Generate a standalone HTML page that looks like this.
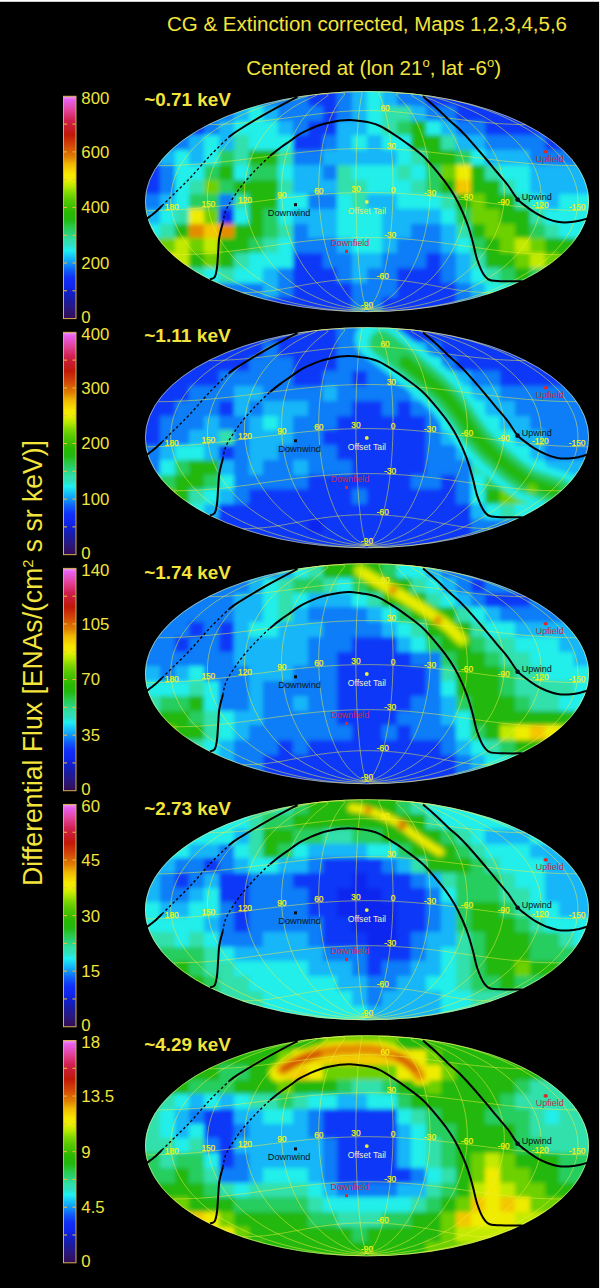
<!DOCTYPE html>
<html><head><meta charset="utf-8"><style>
html,body{margin:0;padding:0;background:#fff;width:600px;height:1288px;overflow:hidden}
svg{display:block}
text{font-family:"Liberation Sans",sans-serif}
.t1{font-size:19.5px;fill:#f2e43c}
.t2{font-size:20.6px;fill:#f2e43c}
.deg{font-size:13px}
.ylab{font-size:27px;fill:#f2e43c}
.sup{font-size:15px}
.cl{font-size:16.8px;fill:#f2e43c}
.en{font-size:18px;font-weight:bold;fill:#f2e43c}
.gl{font-size:8.3px;fill:#f4f010;stroke:#f4f010;stroke-width:0.25px;text-anchor:middle}
.mk{font-size:9px}
</style></head><body>
<svg width="600" height="1288" viewBox="0 0 600 1288">
<defs><filter id="bl" x="-5%" y="-5%" width="110%" height="110%"><feGaussianBlur stdDeviation="2.0"/></filter><filter id="bl2" x="-20%" y="-20%" width="140%" height="140%"><feGaussianBlur stdDeviation="1.5"/></filter><path id="grat" d="M367.0,309.1 L365.4,309.9 L363.3,310.7 L360.4,311.2 L355.3,311.3 L347.5,311.0 L339.0,310.3 L330.9,309.5 L323.3,308.5 L316.2,307.5 L309.6,306.4 L303.3,305.2 L297.3,303.9 L291.6,302.6 L286.2,301.2 L281.0,299.8 L276.0,298.3 L271.2,296.8 L266.5,295.3 L262.1,293.7 L257.7,292.1 L253.6,290.4 L249.5,288.8 L245.6,287.0 L241.8,285.3 L238.2,283.5 L234.6,281.7 L231.2,279.9 L227.9,278.0 L224.7,276.2 L221.6,274.3 L218.6,272.3 L215.7,270.4 L212.9,268.4 L210.2,266.4 L207.6,264.4 L205.1,262.4 L202.7,260.4 L200.4,258.3 L198.2,256.2 L196.0,254.1 L194.0,252.0 L192.0,249.9 L190.2,247.8 L188.4,245.6 L186.7,243.5 L185.1,241.3 L183.6,239.1 L182.2,236.9 L180.8,234.7 L179.6,232.5 L178.4,230.3 L177.3,228.1 L176.3,225.9 L175.4,223.6 L174.5,221.4 L173.8,219.1 L173.1,216.9 L172.5,214.6 L172.0,212.3 L171.6,210.1 L171.3,207.8 L171.0,205.5 L170.8,203.3 L170.8,201.0 L170.7,198.7 L170.8,196.5 L171.0,194.2 L171.2,191.9 L171.6,189.7 L172.0,187.4 L172.5,185.1 L173.0,182.9 L173.7,180.6 L174.4,178.4 L175.3,176.2 L176.2,173.9 L177.2,171.7 L178.2,169.5 L179.4,167.3 L180.6,165.1 L182.0,162.9 L183.4,160.7 L184.9,158.6 L186.5,156.4 L188.2,154.3 L189.9,152.2 L191.8,150.0 L193.7,148.0 L195.8,145.9 L197.9,143.8 L200.1,141.8 L202.4,139.7 L204.8,137.7 L207.3,135.7 L209.9,133.7 L212.6,131.8 L215.4,129.8 L218.3,127.9 L221.3,126.0 L224.4,124.2 L227.6,122.3 L230.9,120.5 L234.3,118.7 L237.8,117.0 L241.5,115.2 L245.3,113.5 L249.2,111.9 L253.2,110.2 L257.4,108.7 L261.7,107.1 L266.2,105.6 L270.8,104.1 L275.6,102.6 L280.6,101.3 L285.8,99.9 L291.2,98.6 L296.8,97.4 L302.7,96.2 L308.8,95.1 L315.2,94.1 M367.0,309.1 L367.7,310.0 L368.6,310.9 L370.0,311.5 L374.2,311.8 L385.4,311.5 L396.3,310.8 L405.9,309.9 L414.4,309.0 L422.3,307.9 L429.5,306.8 L436.4,305.6 L442.8,304.3 L449.0,303.0 L454.8,301.6 L460.4,300.2 L465.8,298.8 L471.0,297.3 L476.0,295.7 L480.8,294.1 L485.4,292.5 L489.9,290.9 L494.2,289.2 L498.4,287.5 L502.5,285.7 L506.4,284.0 L510.2,282.2 L513.8,280.3 L517.4,278.5 L520.8,276.6 L524.1,274.7 L527.3,272.8 L530.4,270.9 L533.4,268.9 L536.2,266.9 L539.0,264.9 L541.7,262.9 L544.2,260.8 L546.7,258.8 L549.1,256.7 L551.3,254.6 L553.5,252.5 L555.6,250.4 L557.6,248.3 L559.5,246.1 L561.3,244.0 L563.0,241.8 L564.6,239.6 L566.1,237.4 L567.5,235.2 L568.8,233.0 L570.1,230.8 L571.2,228.6 L572.3,226.3 L573.2,224.1 L574.1,221.9 L574.9,219.6 L575.6,217.4 L576.2,215.1 L576.7,212.8 L577.1,210.6 L577.5,208.3 L577.7,206.0 L577.9,203.8 L578.0,201.5 L577.9,199.2 L577.8,196.9 L577.6,194.7 L577.4,192.4 L577.0,190.1 L576.5,187.9 L576.0,185.6 L575.3,183.4 L574.6,181.1 L573.8,178.9 L572.8,176.6 L571.8,174.4 L570.7,172.2 L569.6,170.0 L568.3,167.8 L566.9,165.6 L565.4,163.4 L563.9,161.2 L562.2,159.0 L560.5,156.9 L558.7,154.7 L556.7,152.6 L554.7,150.5 L552.6,148.4 L550.4,146.3 L548.1,144.2 L545.7,142.2 L543.2,140.1 L540.5,138.1 L537.8,136.1 L535.0,134.1 L532.1,132.1 L529.1,130.2 L525.9,128.3 L522.7,126.4 L519.3,124.5 L515.8,122.7 L512.2,120.8 L508.5,119.1 L504.7,117.3 L500.7,115.5 L496.6,113.8 L492.3,112.2 L487.9,110.5 L483.4,108.9 L478.6,107.3 L473.8,105.8 L468.7,104.3 L463.4,102.8 L457.9,101.4 L452.2,100.1 L446.2,98.8 L439.9,97.5 L433.3,96.3 L426.3,95.2 L418.8,94.1 M367.0,309.1 L369.8,309.8 L373.1,310.3 L377.3,310.5 L382.5,310.3 L388.6,309.9 L395.0,309.2 L401.3,308.4 L407.4,307.4 L413.3,306.4 L418.8,305.3 L424.2,304.0 L429.3,302.8 L434.2,301.4 L438.9,300.1 L443.5,298.6 L447.8,297.2 L452.0,295.7 L456.1,294.1 L460.0,292.5 L463.8,290.9 L467.5,289.2 L471.1,287.5 L474.5,285.8 L477.9,284.0 L481.1,282.2 L484.2,280.4 L487.3,278.6 L490.2,276.7 L493.0,274.9 L495.8,272.9 L498.4,271.0 L501.0,269.1 L503.5,267.1 L505.9,265.1 L508.2,263.1 L510.4,261.0 L512.5,259.0 L514.6,256.9 L516.6,254.8 L518.5,252.8 L520.3,250.6 L522.0,248.5 L523.7,246.4 L525.3,244.2 L526.8,242.1 L528.2,239.9 L529.6,237.7 L530.8,235.5 L532.0,233.3 L533.2,231.1 L534.2,228.9 L535.2,226.7 L536.1,224.4 L536.9,222.2 L537.7,219.9 L538.4,217.7 L539.0,215.4 L539.5,213.2 L540.0,210.9 L540.4,208.7 L540.7,206.4 L540.9,204.1 L541.1,201.9 L541.2,199.6 L541.2,197.3 L541.1,195.1 L541.0,192.8 L540.8,190.5 L540.5,188.3 L540.2,186.0 L539.8,183.8 L539.3,181.5 L538.7,179.3 L538.1,177.0 L537.3,174.8 L536.6,172.6 L535.7,170.4 L534.8,168.2 L533.7,166.0 L532.7,163.8 L531.5,161.6 L530.2,159.5 L528.9,157.3 L527.5,155.2 L526.1,153.0 L524.5,150.9 L522.9,148.8 L521.2,146.7 L519.4,144.7 L517.6,142.6 L515.6,140.6 L513.6,138.6 L511.5,136.6 L509.3,134.6 L507.0,132.6 L504.7,130.7 L502.2,128.8 L499.7,126.9 L497.1,125.0 L494.4,123.2 L491.6,121.4 L488.7,119.6 L485.7,117.8 L482.6,116.1 L479.4,114.4 L476.1,112.7 L472.7,111.1 L469.2,109.5 L465.6,107.9 L461.8,106.4 L458.0,104.9 L454.0,103.5 L449.9,102.1 L445.7,100.7 L441.3,99.4 L436.8,98.2 L432.3,97.1 L427.6,96.0 L423.1,95.0 L418.8,94.1 M367.0,309.1 L371.0,309.3 L375.2,309.3 L379.7,309.0 L384.4,308.5 L389.1,307.8 L393.7,307.0 L398.2,306.0 L402.6,305.0 L406.8,303.9 L410.9,302.6 L414.8,301.4 L418.6,300.0 L422.3,298.7 L425.8,297.2 L429.2,295.7 L432.5,294.2 L435.7,292.7 L438.8,291.1 L441.8,289.4 L444.7,287.7 L447.5,286.0 L450.3,284.3 L452.9,282.6 L455.5,280.8 L458.0,278.9 L460.4,277.1 L462.7,275.2 L465.0,273.3 L467.2,271.4 L469.3,269.5 L471.3,267.5 L473.3,265.5 L475.2,263.5 L477.1,261.5 L478.9,259.5 L480.6,257.4 L482.2,255.4 L483.8,253.3 L485.4,251.2 L486.8,249.1 L488.2,246.9 L489.6,244.8 L490.9,242.7 L492.1,240.5 L493.3,238.3 L494.4,236.1 L495.4,233.9 L496.4,231.7 L497.3,229.5 L498.2,227.3 L499.0,225.1 L499.8,222.9 L500.5,220.6 L501.1,218.4 L501.7,216.1 L502.2,213.9 L502.7,211.6 L503.1,209.4 L503.4,207.1 L503.7,204.9 L503.9,202.6 L504.1,200.3 L504.2,198.1 L504.3,195.8 L504.3,193.6 L504.3,191.3 L504.1,189.0 L504.0,186.8 L503.8,184.5 L503.5,182.3 L503.1,180.1 L502.7,177.8 L502.3,175.6 L501.8,173.4 L501.2,171.2 L500.6,169.0 L499.9,166.8 L499.1,164.6 L498.3,162.4 L497.5,160.3 L496.5,158.1 L495.6,156.0 L494.5,153.9 L493.4,151.8 L492.3,149.7 L491.0,147.6 L489.8,145.5 L488.4,143.5 L487.0,141.4 L485.5,139.4 L484.0,137.4 L482.4,135.4 L480.8,133.5 L479.0,131.5 L477.3,129.6 L475.4,127.7 L473.5,125.9 L471.5,124.0 L469.5,122.2 L467.4,120.4 L465.2,118.7 L462.9,116.9 L460.6,115.2 L458.2,113.6 L455.8,111.9 L453.2,110.3 L450.6,108.8 L447.9,107.3 L445.2,105.8 L442.4,104.4 L439.5,103.0 L436.6,101.7 L433.7,100.4 L430.7,99.2 L427.8,98.1 L425.0,97.0 L422.4,96.1 L420.2,95.3 L418.9,94.6 L418.8,94.1 M367.0,309.1 L371.0,308.8 L374.9,308.3 L378.7,307.6 L382.4,306.8 L385.9,305.8 L389.3,304.8 L392.5,303.6 L395.6,302.4 L398.6,301.2 L401.5,299.8 L404.3,298.5 L406.9,297.0 L409.5,295.6 L412.0,294.0 L414.4,292.5 L416.7,290.9 L419.0,289.2 L421.2,287.6 L423.3,285.9 L425.4,284.1 L427.4,282.4 L429.3,280.6 L431.2,278.8 L433.0,276.9 L434.8,275.1 L436.5,273.2 L438.1,271.2 L439.7,269.3 L441.3,267.3 L442.8,265.4 L444.2,263.4 L445.7,261.4 L447.0,259.3 L448.3,257.3 L449.6,255.2 L450.8,253.1 L452.0,251.0 L453.1,248.9 L454.2,246.8 L455.2,244.6 L456.2,242.5 L457.2,240.3 L458.1,238.2 L458.9,236.0 L459.8,233.8 L460.5,231.6 L461.3,229.4 L462.0,227.2 L462.6,224.9 L463.2,222.7 L463.8,220.5 L464.3,218.2 L464.8,216.0 L465.2,213.7 L465.6,211.5 L466.0,209.2 L466.3,207.0 L466.5,204.7 L466.8,202.4 L467.0,200.2 L467.1,197.9 L467.2,195.7 L467.3,193.4 L467.3,191.2 L467.3,188.9 L467.2,186.7 L467.1,184.4 L466.9,182.2 L466.7,179.9 L466.5,177.7 L466.2,175.5 L465.9,173.3 L465.6,171.1 L465.2,168.9 L464.7,166.7 L464.2,164.5 L463.7,162.3 L463.1,160.2 L462.5,158.0 L461.9,155.9 L461.2,153.8 L460.4,151.6 L459.6,149.5 L458.8,147.5 L457.9,145.4 L457.0,143.4 L456.1,141.3 L455.1,139.3 L454.0,137.3 L452.9,135.3 L451.8,133.4 L450.6,131.5 L449.4,129.6 L448.1,127.7 L446.8,125.8 L445.4,124.0 L444.0,122.2 L442.5,120.4 L441.0,118.6 L439.5,116.9 L437.8,115.2 L436.2,113.5 L434.5,111.9 L432.8,110.3 L431.0,108.8 L429.1,107.3 L427.3,105.8 L425.4,104.4 L423.4,103.0 L421.5,101.7 L419.5,100.4 L417.6,99.3 L415.7,98.1 L414.0,97.1 L412.5,96.2 L411.5,95.4 L411.2,94.8 L412.0,94.3 L414.4,94.1 L418.8,94.1 M367.0,309.1 L370.1,308.3 L372.8,307.5 L375.4,306.5 L377.8,305.4 L380.1,304.2 L382.3,303.0 L384.3,301.7 L386.3,300.4 L388.1,299.0 L389.9,297.5 L391.6,296.0 L393.3,294.5 L394.9,292.9 L396.4,291.3 L397.9,289.7 L399.4,288.0 L400.8,286.3 L402.1,284.5 L403.4,282.8 L404.7,281.0 L405.9,279.2 L407.1,277.3 L408.3,275.4 L409.4,273.5 L410.5,271.6 L411.5,269.7 L412.5,267.7 L413.5,265.7 L414.5,263.7 L415.4,261.7 L416.3,259.7 L417.2,257.6 L418.0,255.5 L418.8,253.5 L419.6,251.3 L420.3,249.2 L421.0,247.1 L421.7,245.0 L422.4,242.8 L423.0,240.6 L423.6,238.5 L424.2,236.3 L424.8,234.1 L425.3,231.9 L425.8,229.7 L426.2,227.4 L426.7,225.2 L427.1,223.0 L427.5,220.7 L427.8,218.5 L428.2,216.2 L428.5,214.0 L428.8,211.7 L429.0,209.5 L429.3,207.2 L429.5,204.9 L429.6,202.7 L429.8,200.4 L429.9,198.2 L430.0,195.9 L430.1,193.6 L430.1,191.4 L430.1,189.1 L430.1,186.9 L430.1,184.6 L430.0,182.4 L429.9,180.1 L429.8,177.9 L429.7,175.7 L429.5,173.4 L429.3,171.2 L429.1,169.0 L428.9,166.8 L428.6,164.6 L428.3,162.5 L428.0,160.3 L427.6,158.1 L427.2,156.0 L426.8,153.9 L426.4,151.8 L425.9,149.7 L425.4,147.6 L424.9,145.5 L424.4,143.4 L423.8,141.4 L423.2,139.4 L422.6,137.4 L421.9,135.4 L421.2,133.4 L420.5,131.5 L419.8,129.6 L419.0,127.7 L418.2,125.8 L417.4,124.0 L416.5,122.1 L415.6,120.3 L414.7,118.6 L413.8,116.8 L412.8,115.1 L411.8,113.5 L410.7,111.8 L409.7,110.2 L408.6,108.6 L407.5,107.1 L406.3,105.6 L405.1,104.2 L403.9,102.8 L402.7,101.4 L401.5,100.1 L400.3,98.9 L399.1,97.8 L398.1,96.7 L397.1,95.7 L396.4,94.8 L396.3,94.1 L397.0,93.6 L399.4,93.3 L404.0,93.3 L410.7,93.6 L418.8,94.1 M367.0,309.1 L368.4,308.1 L369.6,307.0 L370.7,305.8 L371.7,304.6 L372.7,303.3 L373.6,301.9 L374.4,300.6 L375.2,299.1 L376.0,297.6 L376.7,296.1 L377.4,294.5 L378.1,293.0 L378.8,291.3 L379.4,289.7 L380.0,288.0 L380.6,286.2 L381.1,284.5 L381.7,282.7 L382.2,280.9 L382.8,279.0 L383.3,277.2 L383.7,275.3 L384.2,273.4 L384.7,271.4 L385.1,269.5 L385.5,267.5 L385.9,265.5 L386.3,263.5 L386.7,261.4 L387.1,259.4 L387.5,257.3 L387.8,255.2 L388.2,253.2 L388.5,251.0 L388.8,248.9 L389.1,246.8 L389.4,244.6 L389.7,242.5 L389.9,240.3 L390.2,238.1 L390.4,235.9 L390.7,233.7 L390.9,231.5 L391.1,229.3 L391.3,227.0 L391.5,224.8 L391.7,222.6 L391.8,220.3 L392.0,218.1 L392.1,215.8 L392.3,213.5 L392.4,211.3 L392.5,209.0 L392.6,206.7 L392.7,204.5 L392.8,202.2 L392.8,199.9 L392.9,197.7 L392.9,195.4 L393.0,193.1 L393.0,190.9 L393.0,188.6 L393.0,186.3 L393.0,184.1 L393.0,181.8 L392.9,179.6 L392.9,177.3 L392.8,175.1 L392.8,172.9 L392.7,170.7 L392.6,168.5 L392.5,166.3 L392.4,164.1 L392.3,161.9 L392.2,159.7 L392.0,157.6 L391.9,155.4 L391.7,153.3 L391.5,151.2 L391.3,149.1 L391.1,147.0 L390.9,144.9 L390.7,142.8 L390.5,140.8 L390.2,138.8 L390.0,136.8 L389.7,134.8 L389.4,132.8 L389.1,130.9 L388.8,128.9 L388.5,127.0 L388.2,125.2 L387.9,123.3 L387.5,121.5 L387.1,119.7 L386.8,117.9 L386.4,116.2 L386.0,114.4 L385.6,112.8 L385.1,111.1 L384.7,109.5 L384.2,107.9 L383.8,106.4 L383.3,104.9 L382.8,103.4 L382.3,102.0 L381.8,100.6 L381.3,99.3 L380.7,98.0 L380.2,96.8 L379.7,95.7 L379.2,94.7 L378.9,93.7 L378.7,92.9 L379.2,92.2 L381.8,91.9 L388.7,92.0 L398.7,92.5 L409.0,93.3 L418.8,94.1 M367.0,309.1 L366.4,308.0 L365.9,306.9 L365.4,305.7 L365.0,304.4 L364.5,303.1 L364.2,301.8 L363.8,300.4 L363.5,298.9 L363.1,297.4 L362.8,295.9 L362.5,294.3 L362.2,292.7 L361.9,291.0 L361.7,289.4 L361.4,287.7 L361.2,285.9 L360.9,284.1 L360.7,282.4 L360.5,280.5 L360.2,278.7 L360.0,276.8 L359.8,274.9 L359.6,273.0 L359.4,271.1 L359.2,269.1 L359.0,267.1 L358.9,265.1 L358.7,263.1 L358.5,261.0 L358.4,259.0 L358.2,256.9 L358.1,254.8 L357.9,252.7 L357.8,250.6 L357.6,248.5 L357.5,246.3 L357.4,244.2 L357.3,242.0 L357.2,239.8 L357.1,237.6 L356.9,235.4 L356.8,233.2 L356.8,231.0 L356.7,228.8 L356.6,226.6 L356.5,224.3 L356.4,222.1 L356.4,219.8 L356.3,217.6 L356.2,215.3 L356.2,213.1 L356.1,210.8 L356.1,208.5 L356.0,206.3 L356.0,204.0 L356.0,201.7 L355.9,199.4 L355.9,197.2 L355.9,194.9 L355.9,192.6 L355.9,190.4 L355.9,188.1 L355.9,185.8 L355.9,183.6 L355.9,181.3 L355.9,179.1 L355.9,176.9 L355.9,174.6 L356.0,172.4 L356.0,170.2 L356.0,168.0 L356.1,165.8 L356.1,163.6 L356.2,161.4 L356.2,159.2 L356.3,157.1 L356.4,154.9 L356.4,152.8 L356.5,150.7 L356.6,148.6 L356.7,146.5 L356.8,144.4 L356.9,142.4 L357.0,140.3 L357.1,138.3 L357.2,136.3 L357.3,134.3 L357.4,132.3 L357.5,130.4 L357.7,128.5 L357.8,126.6 L357.9,124.7 L358.1,122.9 L358.2,121.0 L358.4,119.2 L358.6,117.5 L358.7,115.7 L358.9,114.0 L359.1,112.3 L359.3,110.7 L359.4,109.1 L359.6,107.5 L359.8,105.9 L360.1,104.4 L360.3,103.0 L360.5,101.6 L360.7,100.2 L360.9,98.9 L361.2,97.6 L361.4,96.4 L361.6,95.3 L361.8,94.2 L362.0,93.3 L362.1,92.4 L361.8,91.7 L359.1,91.4 L347.5,91.7 L335.4,92.3 L324.7,93.2 L315.2,94.1 M367.0,309.1 L364.6,308.2 L362.4,307.2 L360.3,306.1 L358.5,305.0 L356.7,303.8 L355.1,302.5 L353.5,301.1 L352.0,299.7 L350.6,298.3 L349.2,296.8 L347.9,295.3 L346.6,293.7 L345.4,292.1 L344.3,290.5 L343.1,288.8 L342.0,287.1 L341.0,285.4 L339.9,283.6 L338.9,281.8 L338.0,280.0 L337.0,278.2 L336.1,276.3 L335.2,274.4 L334.4,272.5 L333.6,270.6 L332.8,268.6 L332.0,266.6 L331.2,264.6 L330.5,262.6 L329.8,260.6 L329.1,258.5 L328.5,256.5 L327.9,254.4 L327.2,252.3 L326.7,250.2 L326.1,248.0 L325.5,245.9 L325.0,243.7 L324.5,241.6 L324.0,239.4 L323.6,237.2 L323.2,235.0 L322.7,232.8 L322.3,230.6 L322.0,228.4 L321.6,226.2 L321.3,223.9 L321.0,221.7 L320.7,219.4 L320.4,217.2 L320.2,214.9 L319.9,212.7 L319.7,210.4 L319.5,208.1 L319.4,205.9 L319.2,203.6 L319.1,201.3 L319.0,199.1 L318.9,196.8 L318.8,194.5 L318.8,192.3 L318.7,190.0 L318.7,187.8 L318.7,185.5 L318.8,183.3 L318.8,181.0 L318.9,178.8 L319.0,176.5 L319.1,174.3 L319.2,172.1 L319.4,169.9 L319.6,167.7 L319.7,165.5 L320.0,163.3 L320.2,161.1 L320.5,159.0 L320.7,156.8 L321.0,154.7 L321.3,152.6 L321.7,150.4 L322.0,148.4 L322.4,146.3 L322.8,144.2 L323.2,142.2 L323.7,140.1 L324.2,138.1 L324.6,136.1 L325.2,134.1 L325.7,132.2 L326.2,130.3 L326.8,128.3 L327.4,126.5 L328.0,124.6 L328.7,122.8 L329.3,121.0 L330.0,119.2 L330.7,117.4 L331.5,115.7 L332.2,114.0 L333.0,112.3 L333.8,110.7 L334.6,109.1 L335.5,107.5 L336.4,106.0 L337.3,104.6 L338.2,103.1 L339.1,101.8 L340.0,100.4 L341.0,99.2 L341.9,97.9 L342.8,96.8 L343.6,95.8 L344.3,94.8 L344.7,94.0 L344.4,93.3 L342.9,92.9 L339.2,92.7 L332.7,92.9 L324.3,93.4 L315.2,94.1 M367.0,309.1 L363.3,308.6 L359.7,307.9 L356.4,307.1 L353.2,306.2 L350.1,305.1 L347.3,304.0 L344.5,302.8 L341.9,301.5 L339.3,300.2 L336.9,298.8 L334.6,297.4 L332.3,295.9 L330.1,294.4 L328.0,292.9 L326.0,291.3 L324.0,289.6 L322.1,288.0 L320.3,286.3 L318.5,284.5 L316.7,282.8 L315.0,281.0 L313.4,279.2 L311.8,277.3 L310.3,275.5 L308.8,273.6 L307.4,271.7 L306.0,269.7 L304.6,267.8 L303.3,265.8 L302.0,263.8 L300.8,261.8 L299.6,259.7 L298.5,257.7 L297.4,255.6 L296.3,253.5 L295.3,251.4 L294.3,249.3 L293.4,247.2 L292.4,245.1 L291.6,242.9 L290.7,240.8 L289.9,238.6 L289.2,236.4 L288.5,234.2 L287.8,232.0 L287.1,229.8 L286.5,227.6 L285.9,225.4 L285.4,223.1 L284.9,220.9 L284.4,218.7 L284.0,216.4 L283.6,214.2 L283.2,211.9 L282.9,209.6 L282.6,207.4 L282.4,205.1 L282.1,202.9 L282.0,200.6 L281.8,198.3 L281.7,196.1 L281.6,193.8 L281.6,191.6 L281.6,189.3 L281.6,187.1 L281.7,184.8 L281.8,182.6 L281.9,180.3 L282.1,178.1 L282.3,175.9 L282.5,173.7 L282.8,171.5 L283.1,169.3 L283.5,167.1 L283.9,164.9 L284.3,162.7 L284.8,160.5 L285.3,158.4 L285.8,156.3 L286.4,154.1 L287.0,152.0 L287.6,149.9 L288.3,147.8 L289.0,145.8 L289.8,143.7 L290.6,141.7 L291.4,139.7 L292.3,137.7 L293.2,135.7 L294.1,133.7 L295.1,131.8 L296.1,129.9 L297.2,128.0 L298.3,126.1 L299.4,124.3 L300.6,122.4 L301.8,120.6 L303.1,118.9 L304.4,117.2 L305.7,115.5 L307.1,113.8 L308.5,112.1 L310.0,110.5 L311.5,109.0 L313.0,107.5 L314.5,106.0 L316.1,104.5 L317.8,103.2 L319.4,101.8 L321.0,100.6 L322.7,99.3 L324.2,98.2 L325.7,97.2 L326.9,96.2 L327.9,95.4 L328.2,94.7 L327.5,94.2 L325.4,93.9 L321.3,93.9 L315.2,94.1 M367.0,309.1 L362.9,309.1 L358.6,308.9 L354.3,308.4 L350.0,307.8 L345.8,307.0 L341.7,306.1 L337.7,305.1 L333.9,303.9 L330.2,302.8 L326.6,301.5 L323.2,300.2 L319.8,298.8 L316.6,297.4 L313.5,295.9 L310.5,294.4 L307.6,292.9 L304.8,291.3 L302.1,289.7 L299.4,288.0 L296.9,286.3 L294.4,284.6 L292.0,282.8 L289.7,281.0 L287.4,279.2 L285.2,277.4 L283.1,275.5 L281.0,273.6 L279.0,271.7 L277.1,269.8 L275.2,267.9 L273.4,265.9 L271.7,263.9 L270.0,261.9 L268.4,259.8 L266.8,257.8 L265.3,255.7 L263.8,253.7 L262.4,251.6 L261.1,249.4 L259.8,247.3 L258.5,245.2 L257.3,243.0 L256.2,240.9 L255.1,238.7 L254.1,236.5 L253.1,234.3 L252.2,232.1 L251.3,229.9 L250.5,227.7 L249.8,225.5 L249.1,223.3 L248.4,221.0 L247.8,218.8 L247.2,216.5 L246.7,214.3 L246.3,212.0 L245.9,209.8 L245.5,207.5 L245.2,205.3 L245.0,203.0 L244.8,200.8 L244.6,198.5 L244.5,196.2 L244.5,194.0 L244.5,191.7 L244.6,189.5 L244.7,187.2 L244.8,185.0 L245.0,182.7 L245.3,180.5 L245.6,178.3 L246.0,176.0 L246.4,173.8 L246.9,171.6 L247.4,169.4 L248.0,167.2 L248.6,165.0 L249.3,162.9 L250.0,160.7 L250.8,158.6 L251.6,156.4 L252.5,154.3 L253.4,152.2 L254.4,150.1 L255.5,148.0 L256.6,145.9 L257.7,143.9 L258.9,141.8 L260.2,139.8 L261.5,137.8 L262.9,135.9 L264.3,133.9 L265.8,132.0 L267.3,130.0 L268.9,128.1 L270.6,126.3 L272.3,124.4 L274.0,122.6 L275.9,120.8 L277.8,119.1 L279.7,117.3 L281.7,115.6 L283.8,114.0 L285.9,112.3 L288.1,110.7 L290.3,109.2 L292.6,107.6 L295.0,106.2 L297.4,104.7 L299.9,103.4 L302.3,102.0 L304.9,100.8 L307.3,99.6 L309.8,98.4 L312.1,97.4 L314.3,96.4 L316.0,95.6 L317.0,94.9 L316.9,94.4 L315.2,94.1 M367.0,309.1 L363.6,309.6 L359.7,309.9 L355.2,309.9 L350.2,309.6 L344.7,309.1 L339.2,308.4 L333.7,307.5 L328.4,306.5 L323.2,305.4 L318.3,304.3 L313.6,303.1 L309.0,301.8 L304.6,300.4 L300.4,299.0 L296.3,297.6 L292.4,296.1 L288.6,294.6 L284.9,293.0 L281.4,291.4 L277.9,289.7 L274.6,288.1 L271.4,286.4 L268.2,284.6 L265.2,282.9 L262.3,281.1 L259.4,279.2 L256.7,277.4 L254.0,275.5 L251.4,273.6 L248.9,271.7 L246.5,269.8 L244.2,267.8 L241.9,265.8 L239.7,263.8 L237.6,261.8 L235.6,259.8 L233.7,257.7 L231.8,255.6 L230.0,253.5 L228.3,251.4 L226.6,249.3 L225.0,247.2 L223.5,245.1 L222.1,242.9 L220.7,240.7 L219.4,238.6 L218.1,236.4 L217.0,234.2 L215.9,232.0 L214.9,229.8 L213.9,227.5 L213.0,225.3 L212.2,223.1 L211.4,220.8 L210.7,218.6 L210.1,216.3 L209.6,214.1 L209.1,211.8 L208.7,209.6 L208.3,207.3 L208.0,205.0 L207.8,202.8 L207.6,200.5 L207.6,198.3 L207.5,196.0 L207.6,193.7 L207.7,191.5 L207.9,189.2 L208.1,187.0 L208.5,184.7 L208.8,182.5 L209.3,180.2 L209.8,178.0 L210.4,175.8 L211.1,173.5 L211.8,171.3 L212.6,169.1 L213.4,166.9 L214.3,164.7 L215.3,162.6 L216.4,160.4 L217.5,158.2 L218.7,156.1 L220.0,154.0 L221.4,151.9 L222.8,149.7 L224.2,147.7 L225.8,145.6 L227.4,143.5 L229.1,141.5 L230.9,139.5 L232.7,137.5 L234.7,135.5 L236.7,133.5 L238.7,131.6 L240.9,129.7 L243.1,127.8 L245.4,125.9 L247.8,124.0 L250.3,122.2 L252.8,120.4 L255.4,118.7 L258.1,116.9 L261.0,115.2 L263.8,113.5 L266.8,111.9 L269.9,110.3 L273.1,108.7 L276.3,107.2 L279.7,105.7 L283.1,104.2 L286.7,102.8 L290.3,101.5 L294.0,100.2 L297.8,99.0 L301.7,97.8 L305.5,96.7 L309.1,95.7 L312.5,94.9 L315.2,94.1 M257.7,292.1 L256.6,292.2 L255.5,292.2 L254.4,292.3 L253.3,292.3 L252.1,292.4 L251.0,292.4 L249.8,292.5 L248.6,292.5 L247.4,292.6 L246.2,292.6 L244.9,292.6 L243.7,292.6 L242.4,292.6 M492.9,292.6 L491.6,292.6 L490.3,292.6 L489.1,292.6 L487.8,292.6 L486.6,292.6 L485.4,292.5 L484.2,292.5 L483.0,292.4 L481.9,292.4 L480.7,292.3 L479.6,292.3 L478.5,292.2 L477.4,292.2 L476.3,292.1 L475.2,292.0 L474.1,291.9 L473.0,291.8 L472.0,291.8 L470.9,291.7 L469.9,291.6 L468.9,291.5 L467.9,291.3 L466.8,291.2 L465.8,291.1 L464.8,291.0 L463.8,290.9 L462.9,290.7 L461.9,290.6 L460.9,290.5 L459.9,290.3 L459.0,290.2 L458.0,290.0 L457.0,289.9 L456.1,289.7 L455.1,289.6 L454.2,289.4 L453.2,289.3 L452.3,289.1 L451.3,289.0 L450.4,288.8 L449.5,288.6 L448.5,288.4 L447.6,288.3 L446.6,288.1 L445.7,287.9 L444.7,287.7 L443.8,287.6 L442.8,287.4 L441.9,287.2 L440.9,287.0 L440.0,286.9 L439.0,286.7 L438.1,286.5 L437.1,286.3 L436.1,286.1 L435.2,285.9 L434.2,285.8 L433.2,285.6 L432.3,285.4 L431.3,285.2 L430.3,285.0 L429.3,284.8 L428.4,284.7 L427.4,284.5 L426.4,284.3 L425.4,284.1 L424.4,284.0 L423.4,283.8 L422.4,283.6 L421.4,283.4 L420.3,283.3 L419.3,283.1 L418.3,282.9 L417.3,282.8 L416.2,282.6 L415.2,282.4 L414.2,282.3 L413.1,282.1 L412.1,282.0 L411.0,281.8 L410.0,281.7 L408.9,281.5 L407.9,281.4 L406.8,281.3 L405.8,281.1 L404.7,281.0 L403.6,280.9 L402.5,280.7 L401.5,280.6 L400.4,280.5 L399.3,280.4 L398.2,280.2 L397.1,280.1 L396.0,280.0 L394.9,279.9 L393.8,279.8 L392.7,279.7 L391.6,279.6 L390.5,279.5 L389.4,279.5 L388.3,279.4 L387.2,279.3 L386.1,279.2 L385.0,279.2 L383.9,279.1 L382.8,279.0 L381.6,279.0 L380.5,278.9 L379.4,278.9 L378.3,278.8 L377.1,278.8 L376.0,278.7 L374.9,278.7 L373.8,278.7 L372.6,278.7 L371.5,278.6 L370.4,278.6 L369.3,278.6 L368.1,278.6 L367.0,278.6 L365.9,278.6 L364.7,278.6 L363.6,278.6 L362.5,278.6 L361.4,278.7 L360.2,278.7 L359.1,278.7 L358.0,278.7 L356.9,278.8 L355.7,278.8 L354.6,278.9 L353.5,278.9 L352.4,279.0 L351.2,279.0 L350.1,279.1 L349.0,279.2 L347.9,279.2 L346.8,279.3 L345.7,279.4 L344.6,279.5 L343.5,279.5 L342.4,279.6 L341.3,279.7 L340.2,279.8 L339.1,279.9 L338.0,280.0 L336.9,280.1 L335.8,280.2 L334.7,280.4 L333.6,280.5 L332.5,280.6 L331.5,280.7 L330.4,280.9 L329.3,281.0 L328.2,281.1 L327.2,281.3 L326.1,281.4 L325.1,281.5 L324.0,281.7 L323.0,281.8 L321.9,282.0 L320.9,282.1 L319.8,282.3 L318.8,282.4 L317.8,282.6 L316.7,282.8 L315.7,282.9 L314.7,283.1 L313.7,283.3 L312.6,283.4 L311.6,283.6 L310.6,283.8 L309.6,284.0 L308.6,284.1 L307.6,284.3 L306.6,284.5 L305.6,284.7 L304.7,284.8 L303.7,285.0 L302.7,285.2 L301.7,285.4 L300.8,285.6 L299.8,285.8 L298.8,285.9 L297.9,286.1 L296.9,286.3 L295.9,286.5 L295.0,286.7 L294.0,286.9 L293.1,287.0 L292.1,287.2 L291.2,287.4 L290.2,287.6 L289.3,287.7 L288.3,287.9 L287.4,288.1 L286.4,288.3 L285.5,288.4 L284.5,288.6 L283.6,288.8 L282.7,289.0 L281.7,289.1 L280.8,289.3 L279.8,289.4 L278.9,289.6 L277.9,289.7 L277.0,289.9 L276.0,290.0 L275.0,290.2 L274.1,290.3 L273.1,290.5 L272.1,290.6 L271.1,290.7 L270.2,290.9 L269.2,291.0 L268.2,291.1 L267.2,291.2 L266.1,291.3 L265.1,291.5 L264.1,291.6 L263.1,291.7 L262.0,291.8 L261.0,291.8 L259.9,291.9 L258.8,292.0 L257.7,292.1 M196.0,254.1 L194.4,254.2 L192.7,254.3 L191.1,254.4 L189.4,254.4 L187.7,254.5 L186.0,254.5 L184.3,254.6 L182.7,254.6 L181.0,254.7 L179.2,254.7 L177.5,254.7 L175.8,254.7 L174.1,254.7 M561.6,254.7 L559.9,254.7 L558.2,254.7 L556.5,254.7 L554.8,254.7 L553.0,254.7 L551.3,254.6 L549.7,254.6 L548.0,254.5 L546.3,254.5 L544.6,254.4 L542.9,254.4 L541.3,254.3 L539.6,254.2 L538.0,254.1 L536.3,254.1 L534.7,254.0 L533.0,253.9 L531.4,253.8 L529.8,253.7 L528.1,253.5 L526.5,253.4 L524.9,253.3 L523.3,253.2 L521.7,253.0 L520.1,252.9 L518.5,252.8 L516.9,252.6 L515.3,252.5 L513.7,252.3 L512.1,252.1 L510.5,252.0 L508.9,251.8 L507.3,251.6 L505.7,251.4 L504.2,251.3 L502.6,251.1 L501.0,250.9 L499.4,250.7 L497.8,250.5 L496.3,250.3 L494.7,250.1 L493.1,249.9 L491.5,249.7 L490.0,249.5 L488.4,249.3 L486.8,249.1 L485.3,248.9 L483.7,248.6 L482.1,248.4 L480.5,248.2 L479.0,248.0 L477.4,247.8 L475.8,247.5 L474.2,247.3 L472.7,247.1 L471.1,246.9 L469.5,246.7 L467.9,246.4 L466.3,246.2 L464.8,246.0 L463.2,245.8 L461.6,245.5 L460.0,245.3 L458.4,245.1 L456.8,244.9 L455.2,244.6 L453.6,244.4 L452.0,244.2 L450.4,244.0 L448.8,243.8 L447.2,243.6 L445.6,243.3 L444.0,243.1 L442.4,242.9 L440.8,242.7 L439.2,242.5 L437.6,242.3 L436.0,242.1 L434.4,241.9 L432.8,241.7 L431.1,241.5 L429.5,241.4 L427.9,241.2 L426.3,241.0 L424.6,240.8 L423.0,240.6 L421.4,240.5 L419.8,240.3 L418.1,240.1 L416.5,240.0 L414.9,239.8 L413.2,239.7 L411.6,239.5 L410.0,239.4 L408.3,239.3 L406.7,239.1 L405.0,239.0 L403.4,238.9 L401.7,238.8 L400.1,238.7 L398.4,238.6 L396.8,238.5 L395.1,238.4 L393.5,238.3 L391.8,238.2 L390.2,238.1 L388.5,238.0 L386.9,238.0 L385.2,237.9 L383.6,237.8 L381.9,237.8 L380.3,237.7 L378.6,237.7 L376.9,237.6 L375.3,237.6 L373.6,237.6 L372.0,237.6 L370.3,237.6 L368.7,237.5 L367.0,237.5 L365.3,237.5 L363.7,237.6 L362.0,237.6 L360.4,237.6 L358.7,237.6 L357.1,237.6 L355.4,237.7 L353.7,237.7 L352.1,237.8 L350.4,237.8 L348.8,237.9 L347.1,238.0 L345.5,238.0 L343.8,238.1 L342.2,238.2 L340.5,238.3 L338.9,238.4 L337.2,238.5 L335.6,238.6 L333.9,238.7 L332.3,238.8 L330.6,238.9 L329.0,239.0 L327.3,239.1 L325.7,239.3 L324.0,239.4 L322.4,239.5 L320.8,239.7 L319.1,239.8 L317.5,240.0 L315.9,240.1 L314.2,240.3 L312.6,240.5 L311.0,240.6 L309.4,240.8 L307.7,241.0 L306.1,241.2 L304.5,241.4 L302.9,241.5 L301.2,241.7 L299.6,241.9 L298.0,242.1 L296.4,242.3 L294.8,242.5 L293.2,242.7 L291.6,242.9 L290.0,243.1 L288.4,243.3 L286.8,243.6 L285.2,243.8 L283.6,244.0 L282.0,244.2 L280.4,244.4 L278.8,244.6 L277.2,244.9 L275.6,245.1 L274.0,245.3 L272.4,245.5 L270.8,245.8 L269.2,246.0 L267.7,246.2 L266.1,246.4 L264.5,246.7 L262.9,246.9 L261.3,247.1 L259.8,247.3 L258.2,247.5 L256.6,247.8 L255.0,248.0 L253.5,248.2 L251.9,248.4 L250.3,248.6 L248.7,248.9 L247.2,249.1 L245.6,249.3 L244.0,249.5 L242.5,249.7 L240.9,249.9 L239.3,250.1 L237.7,250.3 L236.2,250.5 L234.6,250.7 L233.0,250.9 L231.4,251.1 L229.8,251.3 L228.3,251.4 L226.7,251.6 L225.1,251.8 L223.5,252.0 L221.9,252.1 L220.3,252.3 L218.7,252.5 L217.1,252.6 L215.5,252.8 L213.9,252.9 L212.3,253.0 L210.7,253.2 L209.1,253.3 L207.5,253.4 L205.9,253.5 L204.2,253.7 L202.6,253.8 L201.0,253.9 L199.3,254.0 L197.7,254.1 L196.0,254.1 M171.6,210.1 L169.8,210.2 L167.9,210.2 L166.1,210.3 L164.2,210.4 L162.4,210.4 L160.5,210.5 L158.7,210.5 L156.9,210.6 L155.0,210.6 L153.2,210.6 L151.3,210.7 L149.5,210.7 L147.6,210.7 M588.2,210.7 L586.4,210.7 L584.5,210.7 L582.7,210.7 L580.8,210.6 L579.0,210.6 L577.1,210.6 L575.3,210.5 L573.5,210.5 L571.6,210.4 L569.8,210.4 L567.9,210.3 L566.1,210.2 L564.2,210.2 L562.4,210.1 L560.6,210.0 L558.7,209.9 L556.9,209.8 L555.0,209.7 L553.2,209.6 L551.4,209.5 L549.5,209.3 L547.7,209.2 L545.9,209.1 L544.0,208.9 L542.2,208.8 L540.4,208.7 L538.5,208.5 L536.7,208.3 L534.9,208.2 L533.0,208.0 L531.2,207.8 L529.4,207.7 L527.5,207.5 L525.7,207.3 L523.9,207.1 L522.0,206.9 L520.2,206.7 L518.4,206.5 L516.5,206.3 L514.7,206.1 L512.9,205.9 L511.0,205.7 L509.2,205.5 L507.4,205.3 L505.5,205.1 L503.7,204.9 L501.9,204.6 L500.0,204.4 L498.2,204.2 L496.4,203.9 L494.5,203.7 L492.7,203.5 L490.9,203.3 L489.0,203.0 L487.2,202.8 L485.4,202.5 L483.5,202.3 L481.7,202.1 L479.8,201.8 L478.0,201.6 L476.2,201.4 L474.3,201.1 L472.5,200.9 L470.6,200.7 L468.8,200.4 L467.0,200.2 L465.1,199.9 L463.3,199.7 L461.4,199.5 L459.6,199.3 L457.7,199.0 L455.9,198.8 L454.0,198.6 L452.2,198.3 L450.3,198.1 L448.5,197.9 L446.7,197.7 L444.8,197.5 L443.0,197.3 L441.1,197.1 L439.3,196.9 L437.4,196.7 L435.6,196.5 L433.7,196.3 L431.9,196.1 L430.0,195.9 L428.2,195.7 L426.3,195.5 L424.5,195.4 L422.6,195.2 L420.7,195.0 L418.9,194.9 L417.0,194.7 L415.2,194.5 L413.3,194.4 L411.5,194.3 L409.6,194.1 L407.8,194.0 L405.9,193.9 L404.1,193.7 L402.2,193.6 L400.4,193.5 L398.5,193.4 L396.7,193.3 L394.8,193.2 L393.0,193.1 L391.1,193.0 L389.2,193.0 L387.4,192.9 L385.5,192.8 L383.7,192.8 L381.8,192.7 L380.0,192.7 L378.1,192.6 L376.3,192.6 L374.4,192.6 L372.6,192.5 L370.7,192.5 L368.9,192.5 L367.0,192.5 L365.1,192.5 L363.3,192.5 L361.4,192.5 L359.6,192.6 L357.7,192.6 L355.9,192.6 L354.0,192.7 L352.2,192.7 L350.3,192.8 L348.5,192.8 L346.6,192.9 L344.8,193.0 L342.9,193.0 L341.0,193.1 L339.2,193.2 L337.3,193.3 L335.5,193.4 L333.6,193.5 L331.8,193.6 L329.9,193.7 L328.1,193.9 L326.2,194.0 L324.4,194.1 L322.5,194.3 L320.7,194.4 L318.8,194.5 L317.0,194.7 L315.1,194.9 L313.3,195.0 L311.4,195.2 L309.5,195.4 L307.7,195.5 L305.8,195.7 L304.0,195.9 L302.1,196.1 L300.3,196.3 L298.4,196.5 L296.6,196.7 L294.7,196.9 L292.9,197.1 L291.0,197.3 L289.2,197.5 L287.3,197.7 L285.5,197.9 L283.7,198.1 L281.8,198.3 L280.0,198.6 L278.1,198.8 L276.3,199.0 L274.4,199.3 L272.6,199.5 L270.7,199.7 L268.9,199.9 L267.0,200.2 L265.2,200.4 L263.4,200.7 L261.5,200.9 L259.7,201.1 L257.8,201.4 L256.0,201.6 L254.2,201.8 L252.3,202.1 L250.5,202.3 L248.6,202.5 L246.8,202.8 L245.0,203.0 L243.1,203.3 L241.3,203.5 L239.5,203.7 L237.6,203.9 L235.8,204.2 L234.0,204.4 L232.1,204.6 L230.3,204.9 L228.5,205.1 L226.6,205.3 L224.8,205.5 L223.0,205.7 L221.1,205.9 L219.3,206.1 L217.5,206.3 L215.6,206.5 L213.8,206.7 L212.0,206.9 L210.1,207.1 L208.3,207.3 L206.5,207.5 L204.6,207.7 L202.8,207.8 L201.0,208.0 L199.1,208.2 L197.3,208.3 L195.5,208.5 L193.6,208.7 L191.8,208.8 L190.0,208.9 L188.1,209.1 L186.3,209.2 L184.5,209.3 L182.6,209.5 L180.8,209.6 L179.0,209.7 L177.1,209.8 L175.3,209.9 L173.4,210.0 L171.6,210.1 M180.6,165.1 L178.9,165.2 L177.2,165.2 L175.5,165.3 L173.8,165.4 L172.2,165.4 L170.5,165.5 L168.8,165.5 L167.1,165.6 L165.4,165.6 L163.7,165.6 L162.1,165.6 L160.4,165.6 L158.7,165.7 M576.9,165.7 L575.3,165.7 L573.6,165.6 L571.9,165.6 L570.3,165.6 L568.6,165.6 L566.9,165.6 L565.2,165.5 L563.5,165.5 L561.8,165.4 L560.2,165.4 L558.5,165.3 L556.8,165.2 L555.1,165.2 L553.4,165.1 L551.6,165.0 L549.9,164.9 L548.2,164.8 L546.5,164.7 L544.8,164.6 L543.1,164.5 L541.3,164.4 L539.6,164.3 L537.9,164.2 L536.1,164.1 L534.4,163.9 L532.7,163.8 L530.9,163.7 L529.2,163.5 L527.4,163.4 L525.7,163.2 L523.9,163.1 L522.2,162.9 L520.4,162.7 L518.7,162.6 L516.9,162.4 L515.1,162.2 L513.4,162.0 L511.6,161.8 L509.9,161.7 L508.1,161.5 L506.3,161.3 L504.6,161.1 L502.8,160.9 L501.0,160.7 L499.2,160.5 L497.5,160.3 L495.7,160.1 L493.9,159.9 L492.1,159.6 L490.4,159.4 L488.6,159.2 L486.8,159.0 L485.0,158.8 L483.2,158.6 L481.5,158.3 L479.7,158.1 L477.9,157.9 L476.1,157.7 L474.3,157.4 L472.6,157.2 L470.8,157.0 L469.0,156.8 L467.2,156.5 L465.4,156.3 L463.6,156.1 L461.9,155.9 L460.1,155.7 L458.3,155.4 L456.5,155.2 L454.7,155.0 L453.0,154.8 L451.2,154.6 L449.4,154.3 L447.6,154.1 L445.9,153.9 L444.1,153.7 L442.3,153.5 L440.5,153.3 L438.8,153.1 L437.0,152.9 L435.2,152.7 L433.5,152.5 L431.7,152.3 L429.9,152.1 L428.2,151.9 L426.4,151.8 L424.6,151.6 L422.9,151.4 L421.1,151.2 L419.3,151.1 L417.6,150.9 L415.8,150.7 L414.1,150.6 L412.3,150.4 L410.6,150.3 L408.8,150.2 L407.1,150.0 L405.3,149.9 L403.6,149.8 L401.8,149.7 L400.1,149.5 L398.3,149.4 L396.6,149.3 L394.8,149.2 L393.1,149.1 L391.3,149.1 L389.6,149.0 L387.9,148.9 L386.1,148.8 L384.4,148.8 L382.6,148.7 L380.9,148.7 L379.2,148.6 L377.4,148.6 L375.7,148.5 L373.9,148.5 L372.2,148.5 L370.5,148.5 L368.7,148.5 L367.0,148.5 L365.3,148.5 L363.5,148.5 L361.8,148.5 L360.1,148.5 L358.3,148.5 L356.6,148.6 L354.8,148.6 L353.1,148.7 L351.4,148.7 L349.6,148.8 L347.9,148.8 L346.1,148.9 L344.4,149.0 L342.7,149.1 L340.9,149.1 L339.2,149.2 L337.4,149.3 L335.7,149.4 L333.9,149.5 L332.2,149.7 L330.4,149.8 L328.7,149.9 L326.9,150.0 L325.2,150.2 L323.4,150.3 L321.7,150.4 L319.9,150.6 L318.2,150.7 L316.4,150.9 L314.7,151.1 L312.9,151.2 L311.1,151.4 L309.4,151.6 L307.6,151.8 L305.8,151.9 L304.1,152.1 L302.3,152.3 L300.5,152.5 L298.8,152.7 L297.0,152.9 L295.2,153.1 L293.5,153.3 L291.7,153.5 L289.9,153.7 L288.1,153.9 L286.4,154.1 L284.6,154.3 L282.8,154.6 L281.0,154.8 L279.3,155.0 L277.5,155.2 L275.7,155.4 L273.9,155.7 L272.1,155.9 L270.4,156.1 L268.6,156.3 L266.8,156.5 L265.0,156.8 L263.2,157.0 L261.4,157.2 L259.7,157.4 L257.9,157.7 L256.1,157.9 L254.3,158.1 L252.5,158.3 L250.8,158.6 L249.0,158.8 L247.2,159.0 L245.4,159.2 L243.6,159.4 L241.9,159.6 L240.1,159.9 L238.3,160.1 L236.5,160.3 L234.8,160.5 L233.0,160.7 L231.2,160.9 L229.4,161.1 L227.7,161.3 L225.9,161.5 L224.1,161.7 L222.4,161.8 L220.6,162.0 L218.9,162.2 L217.1,162.4 L215.3,162.6 L213.6,162.7 L211.8,162.9 L210.1,163.1 L208.3,163.2 L206.6,163.4 L204.8,163.5 L203.1,163.7 L201.3,163.8 L199.6,163.9 L197.9,164.1 L196.1,164.2 L194.4,164.3 L192.7,164.4 L190.9,164.5 L189.2,164.6 L187.5,164.7 L185.8,164.8 L184.1,164.9 L182.4,165.0 L180.6,165.1 M224.4,124.2 L223.1,124.2 L221.9,124.3 L220.7,124.3 L219.5,124.4 L218.3,124.4 L217.1,124.5 L215.9,124.5 L214.7,124.5 L213.5,124.5 L212.4,124.6 L211.2,124.6 L210.1,124.6 L208.9,124.6 M526.2,124.6 L525.1,124.6 L523.9,124.6 L522.8,124.6 L521.6,124.6 L520.5,124.5 L519.3,124.5 L518.1,124.5 L516.9,124.5 L515.7,124.4 L514.5,124.4 L513.3,124.3 L512.1,124.3 L510.9,124.2 L509.6,124.2 L508.4,124.1 L507.2,124.0 L505.9,124.0 L504.6,123.9 L503.4,123.8 L502.1,123.7 L500.8,123.7 L499.6,123.6 L498.3,123.5 L497.0,123.4 L495.7,123.3 L494.4,123.2 L493.1,123.1 L491.7,123.0 L490.4,122.8 L489.1,122.7 L487.8,122.6 L486.4,122.5 L485.1,122.3 L483.7,122.2 L482.4,122.1 L481.1,121.9 L479.7,121.8 L478.3,121.7 L477.0,121.5 L475.6,121.4 L474.2,121.2 L472.9,121.1 L471.5,120.9 L470.1,120.8 L468.7,120.6 L467.4,120.4 L466.0,120.3 L464.6,120.1 L463.2,119.9 L461.8,119.8 L460.4,119.6 L459.0,119.4 L457.6,119.2 L456.2,119.1 L454.8,118.9 L453.4,118.7 L452.0,118.5 L450.6,118.4 L449.2,118.2 L447.8,118.0 L446.4,117.8 L445.0,117.6 L443.6,117.4 L442.2,117.3 L440.8,117.1 L439.5,116.9 L438.1,116.7 L436.7,116.5 L435.3,116.3 L433.9,116.2 L432.5,116.0 L431.1,115.8 L429.7,115.6 L428.3,115.5 L426.9,115.3 L425.5,115.1 L424.1,114.9 L422.8,114.8 L421.4,114.6 L420.0,114.4 L418.6,114.2 L417.2,114.1 L415.9,113.9 L414.5,113.8 L413.1,113.6 L411.8,113.5 L410.4,113.3 L409.1,113.2 L407.7,113.0 L406.4,112.9 L405.0,112.7 L403.7,112.6 L402.3,112.5 L401.0,112.3 L399.6,112.2 L398.3,112.1 L397.0,112.0 L395.7,111.9 L394.3,111.7 L393.0,111.6 L391.7,111.5 L390.4,111.4 L389.1,111.4 L387.7,111.3 L386.4,111.2 L385.1,111.1 L383.8,111.0 L382.5,111.0 L381.2,110.9 L379.9,110.9 L378.6,110.8 L377.3,110.8 L376.0,110.7 L374.7,110.7 L373.5,110.6 L372.2,110.6 L370.9,110.6 L369.6,110.6 L368.3,110.6 L367.0,110.6 L365.7,110.6 L364.4,110.6 L363.1,110.6 L361.8,110.6 L360.5,110.6 L359.3,110.7 L358.0,110.7 L356.7,110.8 L355.4,110.8 L354.1,110.9 L352.8,110.9 L351.5,111.0 L350.2,111.0 L348.9,111.1 L347.6,111.2 L346.3,111.3 L344.9,111.4 L343.6,111.4 L342.3,111.5 L341.0,111.6 L339.7,111.7 L338.3,111.9 L337.0,112.0 L335.7,112.1 L334.4,112.2 L333.0,112.3 L331.7,112.5 L330.3,112.6 L329.0,112.7 L327.6,112.9 L326.3,113.0 L324.9,113.2 L323.6,113.3 L322.2,113.5 L320.9,113.6 L319.5,113.8 L318.1,113.9 L316.8,114.1 L315.4,114.2 L314.0,114.4 L312.6,114.6 L311.2,114.8 L309.9,114.9 L308.5,115.1 L307.1,115.3 L305.7,115.5 L304.3,115.6 L302.9,115.8 L301.5,116.0 L300.1,116.2 L298.7,116.3 L297.3,116.5 L295.9,116.7 L294.5,116.9 L293.2,117.1 L291.8,117.3 L290.4,117.4 L289.0,117.6 L287.6,117.8 L286.2,118.0 L284.8,118.2 L283.4,118.4 L282.0,118.5 L280.6,118.7 L279.2,118.9 L277.8,119.1 L276.4,119.2 L275.0,119.4 L273.6,119.6 L272.2,119.8 L270.8,119.9 L269.4,120.1 L268.0,120.3 L266.6,120.4 L265.3,120.6 L263.9,120.8 L262.5,120.9 L261.1,121.1 L259.8,121.2 L258.4,121.4 L257.0,121.5 L255.7,121.7 L254.3,121.8 L252.9,121.9 L251.6,122.1 L250.3,122.2 L248.9,122.3 L247.6,122.5 L246.2,122.6 L244.9,122.7 L243.6,122.8 L242.3,123.0 L240.9,123.1 L239.6,123.2 L238.3,123.3 L237.0,123.4 L235.7,123.5 L234.4,123.6 L233.2,123.7 L231.9,123.7 L230.6,123.8 L229.4,123.9 L228.1,124.0 L226.8,124.0 L225.6,124.1 L224.4,124.2" fill="none" stroke="#f0f040" stroke-width="0.8" stroke-opacity="0.65"/><linearGradient id="cm" x1="0" y1="1" x2="0" y2="0"><stop offset="0.0" stop-color="#300c58"/><stop offset="0.016" stop-color="#301060"/><stop offset="0.048" stop-color="#281880"/><stop offset="0.084" stop-color="#1a1ca0"/><stop offset="0.12" stop-color="#1020d0"/><stop offset="0.151" stop-color="#1028f0"/><stop offset="0.183" stop-color="#1030f8"/><stop offset="0.219" stop-color="#1060f8"/><stop offset="0.25" stop-color="#1098f8"/><stop offset="0.282" stop-color="#18c8f8"/><stop offset="0.307" stop-color="#20f0f0"/><stop offset="0.331" stop-color="#30e0c0"/><stop offset="0.354" stop-color="#30e0a8"/><stop offset="0.39" stop-color="#28d070"/><stop offset="0.417" stop-color="#28c840"/><stop offset="0.444" stop-color="#20b810"/><stop offset="0.477" stop-color="#28b800"/><stop offset="0.534" stop-color="#58c800"/><stop offset="0.565" stop-color="#80d800"/><stop offset="0.594" stop-color="#b8e800"/><stop offset="0.623" stop-color="#e8f000"/><stop offset="0.649" stop-color="#f8e800"/><stop offset="0.695" stop-color="#f0b800"/><stop offset="0.727" stop-color="#e08000"/><stop offset="0.784" stop-color="#d04008"/><stop offset="0.828" stop-color="#c01808"/><stop offset="0.891" stop-color="#d02050"/><stop offset="0.932" stop-color="#e04090"/><stop offset="0.985" stop-color="#e860f0"/><stop offset="1.0" stop-color="#f0a0f0"/></linearGradient></defs>
<rect x="0" y="0" width="600" height="1288" fill="#fff"/>
<rect x="0" y="1.8" width="599.1" height="1290" fill="#000"/>
<text x="167" y="31.3" class="t1" textLength="400" lengthAdjust="spacingAndGlyphs">CG &amp; Extinction corrected, Maps 1,2,3,4,5,6</text>
<text x="246.2" y="74.6" class="t2">Centered at (lon 21<tspan class="deg" dy="-7.5">o</tspan><tspan dy="7.5">, lat -6</tspan><tspan class="deg" dy="-7.5">o</tspan><tspan dy="7.5">)</tspan></text>
<text transform="translate(42.3,886) rotate(-90)" class="ylab" textLength="446" lengthAdjust="spacingAndGlyphs">Differential Flux [ENAs/(cm<tspan class="sup" dy="-9">2</tspan><tspan dy="9"> s sr keV)]</tspan></text>
<clipPath id="c0"><ellipse cx="367.0" cy="201.60" rx="222.0" ry="110.5"/></clipPath>
<g clip-path="url(#c0)"><g filter="url(#bl)"><g shape-rendering="crispEdges">
<rect x="131.0" y="77.1" width="177.8" height="29.7" fill="#107df8"/>
<rect x="307.8" y="77.1" width="30.6" height="29.7" fill="#1039f8"/>
<rect x="337.4" y="77.1" width="15.8" height="29.7" fill="#107df8"/>
<rect x="352.2" y="77.1" width="15.8" height="29.7" fill="#15b6f8"/>
<rect x="367.0" y="77.1" width="15.8" height="29.7" fill="#22eeea"/>
<rect x="381.8" y="77.1" width="15.8" height="29.7" fill="#15b6f8"/>
<rect x="396.6" y="77.1" width="30.6" height="29.7" fill="#107df8"/>
<rect x="426.2" y="77.1" width="177.8" height="29.7" fill="#1039f8"/>
<rect x="131.0" y="105.8" width="103.8" height="15.7" fill="#107df8"/>
<rect x="233.8" y="105.8" width="15.8" height="15.7" fill="#15b6f8"/>
<rect x="248.6" y="105.8" width="15.8" height="15.7" fill="#22eeea"/>
<rect x="263.4" y="105.8" width="15.8" height="15.7" fill="#15b6f8"/>
<rect x="278.2" y="105.8" width="45.4" height="15.7" fill="#107df8"/>
<rect x="322.6" y="105.8" width="15.8" height="15.7" fill="#1039f8"/>
<rect x="337.4" y="105.8" width="15.8" height="15.7" fill="#107df8"/>
<rect x="352.2" y="105.8" width="15.8" height="15.7" fill="#15b6f8"/>
<rect x="367.0" y="105.8" width="15.8" height="15.7" fill="#22eeea"/>
<rect x="381.8" y="105.8" width="30.6" height="15.7" fill="#30e0ac"/>
<rect x="411.4" y="105.8" width="15.8" height="15.7" fill="#15b6f8"/>
<rect x="426.2" y="105.8" width="30.6" height="15.7" fill="#107df8"/>
<rect x="455.8" y="105.8" width="148.2" height="15.7" fill="#1039f8"/>
<rect x="131.0" y="120.6" width="74.2" height="15.7" fill="#1039f8"/>
<rect x="204.2" y="120.6" width="15.8" height="15.7" fill="#107df8"/>
<rect x="219.0" y="120.6" width="15.8" height="15.7" fill="#15b6f8"/>
<rect x="233.8" y="120.6" width="45.4" height="15.7" fill="#22eeea"/>
<rect x="278.2" y="120.6" width="15.8" height="15.7" fill="#15b6f8"/>
<rect x="293.0" y="120.6" width="15.8" height="15.7" fill="#107df8"/>
<rect x="307.8" y="120.6" width="30.6" height="15.7" fill="#1039f8"/>
<rect x="337.4" y="120.6" width="30.6" height="15.7" fill="#15b6f8"/>
<rect x="367.0" y="120.6" width="15.8" height="15.7" fill="#22eeea"/>
<rect x="381.8" y="120.6" width="15.8" height="15.7" fill="#30e0ac"/>
<rect x="396.6" y="120.6" width="15.8" height="15.7" fill="#28cd5e"/>
<rect x="411.4" y="120.6" width="15.8" height="15.7" fill="#24b808"/>
<rect x="426.2" y="120.6" width="15.8" height="15.7" fill="#22eeea"/>
<rect x="441.0" y="120.6" width="15.8" height="15.7" fill="#15b6f8"/>
<rect x="455.8" y="120.6" width="30.6" height="15.7" fill="#107df8"/>
<rect x="485.4" y="120.6" width="118.6" height="15.7" fill="#1039f8"/>
<rect x="131.0" y="135.3" width="59.4" height="15.7" fill="#107df8"/>
<rect x="189.4" y="135.3" width="15.8" height="15.7" fill="#15b6f8"/>
<rect x="204.2" y="135.3" width="15.8" height="15.7" fill="#22eeea"/>
<rect x="219.0" y="135.3" width="15.8" height="15.7" fill="#15b6f8"/>
<rect x="233.8" y="135.3" width="15.8" height="15.7" fill="#30e0ac"/>
<rect x="248.6" y="135.3" width="45.4" height="15.7" fill="#22eeea"/>
<rect x="293.0" y="135.3" width="30.6" height="15.7" fill="#1039f8"/>
<rect x="322.6" y="135.3" width="15.8" height="15.7" fill="#107df8"/>
<rect x="337.4" y="135.3" width="15.8" height="15.7" fill="#15b6f8"/>
<rect x="352.2" y="135.3" width="15.8" height="15.7" fill="#22eeea"/>
<rect x="367.0" y="135.3" width="15.8" height="15.7" fill="#15b6f8"/>
<rect x="381.8" y="135.3" width="30.6" height="15.7" fill="#22eeea"/>
<rect x="411.4" y="135.3" width="30.6" height="15.7" fill="#24b808"/>
<rect x="441.0" y="135.3" width="15.8" height="15.7" fill="#30e0ac"/>
<rect x="455.8" y="135.3" width="30.6" height="15.7" fill="#15b6f8"/>
<rect x="485.4" y="135.3" width="60.2" height="15.7" fill="#107df8"/>
<rect x="544.6" y="135.3" width="59.4" height="15.7" fill="#1039f8"/>
<rect x="131.0" y="150.0" width="29.8" height="15.7" fill="#107df8"/>
<rect x="159.8" y="150.0" width="15.8" height="15.7" fill="#15b6f8"/>
<rect x="174.6" y="150.0" width="15.8" height="15.7" fill="#22eeea"/>
<rect x="189.4" y="150.0" width="15.8" height="15.7" fill="#15b6f8"/>
<rect x="204.2" y="150.0" width="15.8" height="15.7" fill="#22eeea"/>
<rect x="219.0" y="150.0" width="15.8" height="15.7" fill="#28cd5e"/>
<rect x="233.8" y="150.0" width="15.8" height="15.7" fill="#30e0ac"/>
<rect x="248.6" y="150.0" width="30.6" height="15.7" fill="#24b808"/>
<rect x="278.2" y="150.0" width="15.8" height="15.7" fill="#30e0ac"/>
<rect x="293.0" y="150.0" width="30.6" height="15.7" fill="#107df8"/>
<rect x="322.6" y="150.0" width="75.0" height="15.7" fill="#15b6f8"/>
<rect x="396.6" y="150.0" width="15.8" height="15.7" fill="#22eeea"/>
<rect x="411.4" y="150.0" width="15.8" height="15.7" fill="#30e0ac"/>
<rect x="426.2" y="150.0" width="30.6" height="15.7" fill="#24b808"/>
<rect x="455.8" y="150.0" width="15.8" height="15.7" fill="#28cd5e"/>
<rect x="470.6" y="150.0" width="15.8" height="15.7" fill="#22eeea"/>
<rect x="485.4" y="150.0" width="45.4" height="15.7" fill="#15b6f8"/>
<rect x="529.8" y="150.0" width="74.2" height="15.7" fill="#107df8"/>
<rect x="131.0" y="164.8" width="29.8" height="15.7" fill="#1039f8"/>
<rect x="159.8" y="164.8" width="15.8" height="15.7" fill="#107df8"/>
<rect x="174.6" y="164.8" width="30.6" height="15.7" fill="#22eeea"/>
<rect x="204.2" y="164.8" width="15.8" height="15.7" fill="#28cd5e"/>
<rect x="219.0" y="164.8" width="15.8" height="15.7" fill="#24b808"/>
<rect x="233.8" y="164.8" width="15.8" height="15.7" fill="#22eeea"/>
<rect x="248.6" y="164.8" width="30.6" height="15.7" fill="#28cd5e"/>
<rect x="278.2" y="164.8" width="15.8" height="15.7" fill="#22eeea"/>
<rect x="293.0" y="164.8" width="30.6" height="15.7" fill="#15b6f8"/>
<rect x="322.6" y="164.8" width="15.8" height="15.7" fill="#107df8"/>
<rect x="337.4" y="164.8" width="15.8" height="15.7" fill="#30e0ac"/>
<rect x="352.2" y="164.8" width="45.4" height="15.7" fill="#22eeea"/>
<rect x="396.6" y="164.8" width="15.8" height="15.7" fill="#30e0ac"/>
<rect x="411.4" y="164.8" width="15.8" height="15.7" fill="#22eeea"/>
<rect x="426.2" y="164.8" width="15.8" height="15.7" fill="#28cd5e"/>
<rect x="441.0" y="164.8" width="15.8" height="15.7" fill="#6dd000"/>
<rect x="455.8" y="164.8" width="15.8" height="15.7" fill="#efec00"/>
<rect x="470.6" y="164.8" width="15.8" height="15.7" fill="#24b808"/>
<rect x="485.4" y="164.8" width="15.8" height="15.7" fill="#30e0ac"/>
<rect x="500.2" y="164.8" width="30.6" height="15.7" fill="#22eeea"/>
<rect x="529.8" y="164.8" width="74.2" height="15.7" fill="#15b6f8"/>
<rect x="131.0" y="179.5" width="29.8" height="15.7" fill="#1039f8"/>
<rect x="159.8" y="179.5" width="15.8" height="15.7" fill="#107df8"/>
<rect x="174.6" y="179.5" width="15.8" height="15.7" fill="#22eeea"/>
<rect x="189.4" y="179.5" width="15.8" height="15.7" fill="#30e0ac"/>
<rect x="204.2" y="179.5" width="15.8" height="15.7" fill="#6dd000"/>
<rect x="219.0" y="179.5" width="15.8" height="15.7" fill="#28cd5e"/>
<rect x="233.8" y="179.5" width="45.4" height="15.7" fill="#24b808"/>
<rect x="278.2" y="179.5" width="15.8" height="15.7" fill="#30e0ac"/>
<rect x="293.0" y="179.5" width="45.4" height="15.7" fill="#15b6f8"/>
<rect x="337.4" y="179.5" width="30.6" height="15.7" fill="#30e0ac"/>
<rect x="367.0" y="179.5" width="45.4" height="15.7" fill="#22eeea"/>
<rect x="411.4" y="179.5" width="15.8" height="15.7" fill="#30e0ac"/>
<rect x="426.2" y="179.5" width="15.8" height="15.7" fill="#28cd5e"/>
<rect x="441.0" y="179.5" width="15.8" height="15.7" fill="#24b808"/>
<rect x="455.8" y="179.5" width="15.8" height="15.7" fill="#f3c800"/>
<rect x="470.6" y="179.5" width="30.6" height="15.7" fill="#24b808"/>
<rect x="500.2" y="179.5" width="15.8" height="15.7" fill="#30e0ac"/>
<rect x="515.0" y="179.5" width="15.8" height="15.7" fill="#22eeea"/>
<rect x="529.8" y="179.5" width="74.2" height="15.7" fill="#15b6f8"/>
<rect x="131.0" y="194.2" width="29.8" height="15.7" fill="#107df8"/>
<rect x="159.8" y="194.2" width="15.8" height="15.7" fill="#15b6f8"/>
<rect x="174.6" y="194.2" width="15.8" height="15.7" fill="#22eeea"/>
<rect x="189.4" y="194.2" width="30.6" height="15.7" fill="#28cd5e"/>
<rect x="219.0" y="194.2" width="15.8" height="15.7" fill="#107df8"/>
<rect x="233.8" y="194.2" width="15.8" height="15.7" fill="#30e0ac"/>
<rect x="248.6" y="194.2" width="30.6" height="15.7" fill="#24b808"/>
<rect x="278.2" y="194.2" width="30.6" height="15.7" fill="#22eeea"/>
<rect x="307.8" y="194.2" width="30.6" height="15.7" fill="#107df8"/>
<rect x="337.4" y="194.2" width="15.8" height="15.7" fill="#22eeea"/>
<rect x="352.2" y="194.2" width="15.8" height="15.7" fill="#30e0ac"/>
<rect x="367.0" y="194.2" width="30.6" height="15.7" fill="#15b6f8"/>
<rect x="396.6" y="194.2" width="45.4" height="15.7" fill="#22eeea"/>
<rect x="441.0" y="194.2" width="15.8" height="15.7" fill="#30e0ac"/>
<rect x="455.8" y="194.2" width="15.8" height="15.7" fill="#24b808"/>
<rect x="470.6" y="194.2" width="15.8" height="15.7" fill="#6dd000"/>
<rect x="485.4" y="194.2" width="30.6" height="15.7" fill="#24b808"/>
<rect x="515.0" y="194.2" width="15.8" height="15.7" fill="#30e0ac"/>
<rect x="529.8" y="194.2" width="15.8" height="15.7" fill="#22eeea"/>
<rect x="544.6" y="194.2" width="15.8" height="15.7" fill="#15b6f8"/>
<rect x="559.4" y="194.2" width="44.6" height="15.7" fill="#22eeea"/>
<rect x="131.0" y="209.0" width="29.8" height="15.7" fill="#15b6f8"/>
<rect x="159.8" y="209.0" width="15.8" height="15.7" fill="#22eeea"/>
<rect x="174.6" y="209.0" width="15.8" height="15.7" fill="#30e0ac"/>
<rect x="189.4" y="209.0" width="15.8" height="15.7" fill="#efec00"/>
<rect x="204.2" y="209.0" width="15.8" height="15.7" fill="#6dd000"/>
<rect x="219.0" y="209.0" width="15.8" height="15.7" fill="#1028ef"/>
<rect x="233.8" y="209.0" width="15.8" height="15.7" fill="#22eeea"/>
<rect x="248.6" y="209.0" width="15.8" height="15.7" fill="#24b808"/>
<rect x="263.4" y="209.0" width="15.8" height="15.7" fill="#28cd5e"/>
<rect x="278.2" y="209.0" width="15.8" height="15.7" fill="#22eeea"/>
<rect x="293.0" y="209.0" width="45.4" height="15.7" fill="#15b6f8"/>
<rect x="337.4" y="209.0" width="45.4" height="15.7" fill="#22eeea"/>
<rect x="381.8" y="209.0" width="60.2" height="15.7" fill="#15b6f8"/>
<rect x="441.0" y="209.0" width="15.8" height="15.7" fill="#22eeea"/>
<rect x="455.8" y="209.0" width="15.8" height="15.7" fill="#28cd5e"/>
<rect x="470.6" y="209.0" width="30.6" height="15.7" fill="#6dd000"/>
<rect x="500.2" y="209.0" width="30.6" height="15.7" fill="#24b808"/>
<rect x="529.8" y="209.0" width="15.8" height="15.7" fill="#30e0ac"/>
<rect x="544.6" y="209.0" width="59.4" height="15.7" fill="#22eeea"/>
<rect x="131.0" y="223.7" width="29.8" height="15.7" fill="#22eeea"/>
<rect x="159.8" y="223.7" width="15.8" height="15.7" fill="#30e0ac"/>
<rect x="174.6" y="223.7" width="15.8" height="15.7" fill="#24b808"/>
<rect x="189.4" y="223.7" width="15.8" height="15.7" fill="#e48c00"/>
<rect x="204.2" y="223.7" width="15.8" height="15.7" fill="#f3c800"/>
<rect x="219.0" y="223.7" width="15.8" height="15.7" fill="#e48c00"/>
<rect x="233.8" y="223.7" width="30.6" height="15.7" fill="#24b808"/>
<rect x="263.4" y="223.7" width="15.8" height="15.7" fill="#28cd5e"/>
<rect x="278.2" y="223.7" width="15.8" height="15.7" fill="#30e0ac"/>
<rect x="293.0" y="223.7" width="15.8" height="15.7" fill="#107df8"/>
<rect x="307.8" y="223.7" width="30.6" height="15.7" fill="#15b6f8"/>
<rect x="337.4" y="223.7" width="45.4" height="15.7" fill="#22eeea"/>
<rect x="381.8" y="223.7" width="30.6" height="15.7" fill="#15b6f8"/>
<rect x="411.4" y="223.7" width="30.6" height="15.7" fill="#107df8"/>
<rect x="441.0" y="223.7" width="15.8" height="15.7" fill="#15b6f8"/>
<rect x="455.8" y="223.7" width="15.8" height="15.7" fill="#30e0ac"/>
<rect x="470.6" y="223.7" width="15.8" height="15.7" fill="#24b808"/>
<rect x="485.4" y="223.7" width="30.6" height="15.7" fill="#6dd000"/>
<rect x="515.0" y="223.7" width="15.8" height="15.7" fill="#24b808"/>
<rect x="529.8" y="223.7" width="15.8" height="15.7" fill="#28cd5e"/>
<rect x="544.6" y="223.7" width="15.8" height="15.7" fill="#30e0ac"/>
<rect x="559.4" y="223.7" width="44.6" height="15.7" fill="#22eeea"/>
<rect x="131.0" y="238.4" width="29.8" height="15.7" fill="#28cd5e"/>
<rect x="159.8" y="238.4" width="15.8" height="15.7" fill="#6dd000"/>
<rect x="174.6" y="238.4" width="15.8" height="15.7" fill="#c2ea00"/>
<rect x="189.4" y="238.4" width="15.8" height="15.7" fill="#6dd000"/>
<rect x="204.2" y="238.4" width="15.8" height="15.7" fill="#c2ea00"/>
<rect x="219.0" y="238.4" width="30.6" height="15.7" fill="#24b808"/>
<rect x="248.6" y="238.4" width="15.8" height="15.7" fill="#28cd5e"/>
<rect x="263.4" y="238.4" width="15.8" height="15.7" fill="#30e0ac"/>
<rect x="278.2" y="238.4" width="15.8" height="15.7" fill="#22eeea"/>
<rect x="293.0" y="238.4" width="45.4" height="15.7" fill="#107df8"/>
<rect x="337.4" y="238.4" width="15.8" height="15.7" fill="#15b6f8"/>
<rect x="352.2" y="238.4" width="30.6" height="15.7" fill="#22eeea"/>
<rect x="381.8" y="238.4" width="15.8" height="15.7" fill="#15b6f8"/>
<rect x="396.6" y="238.4" width="45.4" height="15.7" fill="#107df8"/>
<rect x="441.0" y="238.4" width="15.8" height="15.7" fill="#15b6f8"/>
<rect x="455.8" y="238.4" width="15.8" height="15.7" fill="#22eeea"/>
<rect x="470.6" y="238.4" width="15.8" height="15.7" fill="#28cd5e"/>
<rect x="485.4" y="238.4" width="15.8" height="15.7" fill="#24b808"/>
<rect x="500.2" y="238.4" width="15.8" height="15.7" fill="#6dd000"/>
<rect x="515.0" y="238.4" width="15.8" height="15.7" fill="#c2ea00"/>
<rect x="529.8" y="238.4" width="15.8" height="15.7" fill="#6dd000"/>
<rect x="544.6" y="238.4" width="59.4" height="15.7" fill="#24b808"/>
<rect x="131.0" y="253.2" width="44.6" height="15.7" fill="#efec00"/>
<rect x="174.6" y="253.2" width="15.8" height="15.7" fill="#c2ea00"/>
<rect x="189.4" y="253.2" width="15.8" height="15.7" fill="#24b808"/>
<rect x="204.2" y="253.2" width="15.8" height="15.7" fill="#6dd000"/>
<rect x="219.0" y="253.2" width="15.8" height="15.7" fill="#24b808"/>
<rect x="233.8" y="253.2" width="15.8" height="15.7" fill="#30e0ac"/>
<rect x="248.6" y="253.2" width="45.4" height="15.7" fill="#22eeea"/>
<rect x="293.0" y="253.2" width="30.6" height="15.7" fill="#1039f8"/>
<rect x="322.6" y="253.2" width="30.6" height="15.7" fill="#107df8"/>
<rect x="352.2" y="253.2" width="30.6" height="15.7" fill="#15b6f8"/>
<rect x="381.8" y="253.2" width="45.4" height="15.7" fill="#107df8"/>
<rect x="426.2" y="253.2" width="15.8" height="15.7" fill="#1039f8"/>
<rect x="441.0" y="253.2" width="15.8" height="15.7" fill="#107df8"/>
<rect x="455.8" y="253.2" width="15.8" height="15.7" fill="#15b6f8"/>
<rect x="470.6" y="253.2" width="15.8" height="15.7" fill="#30e0ac"/>
<rect x="485.4" y="253.2" width="30.6" height="15.7" fill="#24b808"/>
<rect x="515.0" y="253.2" width="15.8" height="15.7" fill="#6dd000"/>
<rect x="529.8" y="253.2" width="15.8" height="15.7" fill="#c2ea00"/>
<rect x="544.6" y="253.2" width="15.8" height="15.7" fill="#6dd000"/>
<rect x="559.4" y="253.2" width="44.6" height="15.7" fill="#24b808"/>
<rect x="131.0" y="267.9" width="74.2" height="15.7" fill="#30e0ac"/>
<rect x="204.2" y="267.9" width="15.8" height="15.7" fill="#22eeea"/>
<rect x="219.0" y="267.9" width="15.8" height="15.7" fill="#30e0ac"/>
<rect x="233.8" y="267.9" width="30.6" height="15.7" fill="#22eeea"/>
<rect x="263.4" y="267.9" width="15.8" height="15.7" fill="#15b6f8"/>
<rect x="278.2" y="267.9" width="15.8" height="15.7" fill="#107df8"/>
<rect x="293.0" y="267.9" width="45.4" height="15.7" fill="#1039f8"/>
<rect x="337.4" y="267.9" width="15.8" height="15.7" fill="#107df8"/>
<rect x="352.2" y="267.9" width="15.8" height="15.7" fill="#15b6f8"/>
<rect x="367.0" y="267.9" width="30.6" height="15.7" fill="#107df8"/>
<rect x="396.6" y="267.9" width="45.4" height="15.7" fill="#1039f8"/>
<rect x="441.0" y="267.9" width="15.8" height="15.7" fill="#107df8"/>
<rect x="455.8" y="267.9" width="15.8" height="15.7" fill="#15b6f8"/>
<rect x="470.6" y="267.9" width="15.8" height="15.7" fill="#22eeea"/>
<rect x="485.4" y="267.9" width="15.8" height="15.7" fill="#30e0ac"/>
<rect x="500.2" y="267.9" width="15.8" height="15.7" fill="#28cd5e"/>
<rect x="515.0" y="267.9" width="15.8" height="15.7" fill="#24b808"/>
<rect x="529.8" y="267.9" width="74.2" height="15.7" fill="#28cd5e"/>
<rect x="131.0" y="282.6" width="89.0" height="15.7" fill="#15b6f8"/>
<rect x="219.0" y="282.6" width="45.4" height="15.7" fill="#107df8"/>
<rect x="263.4" y="282.6" width="15.8" height="15.7" fill="#15b6f8"/>
<rect x="278.2" y="282.6" width="15.8" height="15.7" fill="#107df8"/>
<rect x="293.0" y="282.6" width="60.2" height="15.7" fill="#1039f8"/>
<rect x="352.2" y="282.6" width="45.4" height="15.7" fill="#107df8"/>
<rect x="396.6" y="282.6" width="60.2" height="15.7" fill="#1039f8"/>
<rect x="455.8" y="282.6" width="15.8" height="15.7" fill="#107df8"/>
<rect x="470.6" y="282.6" width="15.8" height="15.7" fill="#15b6f8"/>
<rect x="485.4" y="282.6" width="118.6" height="15.7" fill="#22eeea"/>
<rect x="131.0" y="297.4" width="133.4" height="29.7" fill="#107df8"/>
<rect x="263.4" y="297.4" width="89.8" height="29.7" fill="#1039f8"/>
<rect x="352.2" y="297.4" width="30.6" height="29.7" fill="#107df8"/>
<rect x="381.8" y="297.4" width="75.0" height="29.7" fill="#1039f8"/>
<rect x="455.8" y="297.4" width="148.2" height="29.7" fill="#107df8"/>
</g>
</g>
<use href="#grat" transform="translate(0,0.00)"/>
</g>
<ellipse cx="367.0" cy="201.60" rx="221.6" ry="110.1" fill="none" stroke="#f4f08a" stroke-width="0.8" stroke-opacity="0.7"/>
<path d="M146.5,219.0 C147.9,217.9 152.4,214.7 155.0,212.5 C157.6,210.3 160.8,206.9 162.0,205.8" fill="none" stroke="#000" stroke-width="2"/>
<path d="M229.0,137.0 C230.5,135.9 231.8,134.4 238.0,130.5 C244.2,126.6 256.0,119.3 265.9,113.7 C275.8,108.1 292.2,99.6 297.5,96.8" fill="none" stroke="#000" stroke-width="2"/>
<path d="M423.0,96.3 C425.3,98.3 432.3,104.2 436.7,108.2 C441.1,112.2 445.6,116.9 449.5,120.5 C453.4,124.1 456.1,125.9 460.0,129.8 C463.9,133.7 468.7,138.9 473.0,143.8 C477.3,148.7 482.0,154.3 486.0,159.0 C490.0,163.7 493.2,167.7 496.8,172.0 C500.4,176.3 504.3,180.5 507.7,185.0 C511.1,189.5 514.5,195.6 517.4,199.0 C520.3,202.4 521.9,203.2 525.0,205.6 C528.1,208.0 532.2,211.0 535.8,213.2 C539.4,215.4 543.1,217.2 546.7,218.6 C550.3,220.0 553.9,221.2 557.5,221.8 C561.1,222.4 564.7,222.5 568.3,222.3 C571.9,222.1 575.8,221.5 579.2,220.8 C582.6,220.1 587.2,218.5 588.8,218.0" fill="none" stroke="#000" stroke-width="2"/>
<path d="M210.0,279.3 C210.8,278.9 213.5,278.9 214.7,277.0 C215.9,275.1 216.4,272.0 217.0,267.7 C217.6,263.4 217.8,256.4 218.2,251.3 C218.6,246.2 218.5,242.0 219.3,237.3 C220.1,232.6 222.2,225.4 222.8,223.0" fill="none" stroke="#000" stroke-width="2"/>
<path d="M270.0,156.0 C271.7,154.7 276.7,150.5 280.0,148.0 C283.3,145.5 286.7,143.3 290.0,141.0 C293.3,138.7 296.7,136.0 300.0,134.0 C303.3,132.0 306.7,130.5 310.0,129.0 C313.3,127.5 316.7,126.1 320.0,125.0 C323.3,123.9 326.7,123.1 330.0,122.4 C333.3,121.7 336.7,121.0 340.0,120.6 C343.3,120.2 346.7,119.9 350.0,120.0 C353.3,120.1 356.7,120.6 360.0,121.0 C363.3,121.4 366.7,121.8 370.0,122.6 C373.3,123.4 376.1,124.1 380.0,126.0 C383.9,127.9 389.1,131.3 393.3,134.0 C397.5,136.7 400.0,138.3 405.0,142.0 C410.0,145.7 417.5,150.8 423.3,156.3 C429.1,161.8 435.2,169.6 439.7,175.0 C444.2,180.4 447.1,184.3 450.2,189.0 C453.3,193.7 455.6,197.6 458.3,203.0 C461.0,208.4 464.2,215.5 466.5,221.7 C468.8,227.9 470.6,234.1 472.3,240.3 C474.1,246.5 475.2,253.6 477.0,259.0 C478.8,264.4 480.7,269.5 482.8,273.0 C484.9,276.5 486.1,278.6 489.8,280.0 C493.5,281.4 499.6,281.0 505.0,281.2 C510.4,281.4 519.6,281.2 522.5,281.2" fill="none" stroke="#000" stroke-width="2"/>
<path d="M162.0,205.8 C164.2,203.7 170.1,197.8 175.0,193.0 C179.9,188.2 185.5,182.9 191.3,176.7 C197.1,170.5 203.7,162.3 210.0,155.7 C216.3,149.1 225.8,140.1 229.0,137.0" fill="none" stroke="#000" stroke-width="1.3" stroke-dasharray="2.6,2.4"/>
<path d="M222.8,223.0 C223.4,220.7 223.8,214.7 226.3,209.3 C228.8,203.9 234.1,196.2 238.0,190.7 C241.9,185.1 246.3,180.2 250.0,176.0 C253.7,171.8 256.7,168.8 260.0,165.5 C263.3,162.2 268.3,157.6 270.0,156.0" fill="none" stroke="#000" stroke-width="1.3" stroke-dasharray="2.6,2.4"/>
<text x="267.7" y="215.80" class="mk" fill="#0a1420" textLength="42.8" lengthAdjust="spacingAndGlyphs">Downwind</text>
<text x="347.7" y="213.60" class="mk" fill="#dcee68" textLength="38.3" lengthAdjust="spacingAndGlyphs">Offset Tail</text>
<g id="labs"><text x="171.7" y="209.8" class="gl">180</text><text x="208.3" y="207.0" class="gl">150</text><text x="245.0" y="202.7" class="gl">120</text><text x="281.8" y="198.0" class="gl">90</text><text x="318.8" y="194.2" class="gl">60</text><text x="355.9" y="192.3" class="gl">30</text><text x="393.0" y="192.8" class="gl">0</text><text x="430.0" y="195.6" class="gl">-30</text><text x="467.0" y="199.9" class="gl">-60</text><text x="503.7" y="204.6" class="gl">-90</text><text x="540.4" y="208.4" class="gl">-120</text><text x="577.1" y="210.3" class="gl">-150</text><text x="385.1" y="110.8" class="gl">60</text><text x="391.3" y="148.8" class="gl">30</text><text x="390.2" y="237.8" class="gl">-30</text><text x="382.8" y="278.7" class="gl">-60</text><text x="367.0" y="308.3" class="gl">-90</text><rect x="294" y="203.2" width="3" height="3" fill="#0a0f18"/><circle cx="366.8" cy="201.9" r="1.9" fill="#f0f040"/><text x="330.4" y="245.5" class="mk" fill="#c82c44" textLength="38.8" lengthAdjust="spacingAndGlyphs">Downfield</text><rect x="345" y="249.9" width="3" height="3" fill="#e02828"/><circle cx="517.6" cy="199.6" r="2.3" fill="#0a0f18"/><text x="521.7" y="199.9" class="mk" fill="#0a1420" textLength="30" lengthAdjust="spacingAndGlyphs">Upwind</text><ellipse cx="545.7" cy="151.7" rx="2.2" ry="1.8" fill="#e02828"/><text x="535.7" y="162.2" class="mk" fill="#c82c44" textLength="28" lengthAdjust="spacingAndGlyphs">Upfield</text></g>
<rect x="63.5" y="96.30" width="12.5" height="222.30" fill="url(#cm)" stroke="#d8b050" stroke-width="1"/>
<path d="M64,290.81 h3 M72.5,290.81 h3" stroke="#f0c040" stroke-width="1"/>
<path d="M64,263.03 h3 M72.5,263.03 h3" stroke="#f0c040" stroke-width="1"/>
<path d="M64,235.24 h3 M72.5,235.24 h3" stroke="#f0c040" stroke-width="1"/>
<path d="M64,207.45 h3 M72.5,207.45 h3" stroke="#f0c040" stroke-width="1"/>
<path d="M64,179.66 h3 M72.5,179.66 h3" stroke="#f0c040" stroke-width="1"/>
<path d="M64,151.88 h3 M72.5,151.88 h3" stroke="#f0c040" stroke-width="1"/>
<path d="M64,124.09 h3 M72.5,124.09 h3" stroke="#f0c040" stroke-width="1"/>
<text x="81.3" y="322.50" class="cl">0</text>
<text x="81.3" y="268.93" class="cl">200</text>
<text x="81.3" y="213.35" class="cl">400</text>
<text x="81.3" y="157.78" class="cl">600</text>
<text x="81.3" y="103.70" class="cl">800</text>
<text x="144.2" y="106.00" class="en" textLength="86.6" lengthAdjust="spacingAndGlyphs">~0.71 keV</text>
<clipPath id="c1"><ellipse cx="367.0" cy="437.65" rx="222.0" ry="110.5"/></clipPath>
<g clip-path="url(#c1)"><g filter="url(#bl)"><g shape-rendering="crispEdges">
<rect x="131.0" y="313.1" width="207.4" height="29.7" fill="#1039f8"/>
<rect x="337.4" y="313.1" width="30.6" height="29.7" fill="#107df8"/>
<rect x="367.0" y="313.1" width="15.8" height="29.7" fill="#15b6f8"/>
<rect x="381.8" y="313.1" width="15.8" height="29.7" fill="#107df8"/>
<rect x="396.6" y="313.1" width="207.4" height="29.7" fill="#1039f8"/>
<rect x="131.0" y="341.9" width="133.4" height="15.7" fill="#1039f8"/>
<rect x="263.4" y="341.9" width="15.8" height="15.7" fill="#107df8"/>
<rect x="278.2" y="341.9" width="60.2" height="15.7" fill="#1039f8"/>
<rect x="337.4" y="341.9" width="45.4" height="15.7" fill="#107df8"/>
<rect x="381.8" y="341.9" width="15.8" height="15.7" fill="#22eeea"/>
<rect x="396.6" y="341.9" width="15.8" height="15.7" fill="#30e0ac"/>
<rect x="411.4" y="341.9" width="15.8" height="15.7" fill="#15b6f8"/>
<rect x="426.2" y="341.9" width="15.8" height="15.7" fill="#107df8"/>
<rect x="441.0" y="341.9" width="163.0" height="15.7" fill="#1039f8"/>
<rect x="131.0" y="356.6" width="118.6" height="15.7" fill="#1039f8"/>
<rect x="248.6" y="356.6" width="45.4" height="15.7" fill="#107df8"/>
<rect x="293.0" y="356.6" width="45.4" height="15.7" fill="#1039f8"/>
<rect x="337.4" y="356.6" width="60.2" height="15.7" fill="#107df8"/>
<rect x="396.6" y="356.6" width="30.6" height="15.7" fill="#28cd5e"/>
<rect x="426.2" y="356.6" width="15.8" height="15.7" fill="#22eeea"/>
<rect x="441.0" y="356.6" width="15.8" height="15.7" fill="#107df8"/>
<rect x="455.8" y="356.6" width="148.2" height="15.7" fill="#1039f8"/>
<rect x="131.0" y="371.3" width="89.0" height="15.7" fill="#1039f8"/>
<rect x="219.0" y="371.3" width="75.0" height="15.7" fill="#107df8"/>
<rect x="293.0" y="371.3" width="30.6" height="15.7" fill="#1039f8"/>
<rect x="322.6" y="371.3" width="30.6" height="15.7" fill="#107df8"/>
<rect x="352.2" y="371.3" width="15.8" height="15.7" fill="#1039f8"/>
<rect x="367.0" y="371.3" width="30.6" height="15.7" fill="#107df8"/>
<rect x="396.6" y="371.3" width="15.8" height="15.7" fill="#15b6f8"/>
<rect x="411.4" y="371.3" width="15.8" height="15.7" fill="#22eeea"/>
<rect x="426.2" y="371.3" width="15.8" height="15.7" fill="#24b808"/>
<rect x="441.0" y="371.3" width="15.8" height="15.7" fill="#30e0ac"/>
<rect x="455.8" y="371.3" width="15.8" height="15.7" fill="#15b6f8"/>
<rect x="470.6" y="371.3" width="30.6" height="15.7" fill="#107df8"/>
<rect x="500.2" y="371.3" width="103.8" height="15.7" fill="#1039f8"/>
<rect x="131.0" y="386.1" width="59.4" height="15.7" fill="#1039f8"/>
<rect x="189.4" y="386.1" width="45.4" height="15.7" fill="#107df8"/>
<rect x="233.8" y="386.1" width="30.6" height="15.7" fill="#15b6f8"/>
<rect x="263.4" y="386.1" width="60.2" height="15.7" fill="#107df8"/>
<rect x="322.6" y="386.1" width="15.8" height="15.7" fill="#15b6f8"/>
<rect x="337.4" y="386.1" width="75.0" height="15.7" fill="#107df8"/>
<rect x="411.4" y="386.1" width="15.8" height="15.7" fill="#15b6f8"/>
<rect x="426.2" y="386.1" width="15.8" height="15.7" fill="#30e0ac"/>
<rect x="441.0" y="386.1" width="15.8" height="15.7" fill="#24b808"/>
<rect x="455.8" y="386.1" width="15.8" height="15.7" fill="#22eeea"/>
<rect x="470.6" y="386.1" width="30.6" height="15.7" fill="#15b6f8"/>
<rect x="500.2" y="386.1" width="103.8" height="15.7" fill="#107df8"/>
<rect x="131.0" y="400.8" width="44.6" height="15.7" fill="#1039f8"/>
<rect x="174.6" y="400.8" width="45.4" height="15.7" fill="#107df8"/>
<rect x="219.0" y="400.8" width="15.8" height="15.7" fill="#1039f8"/>
<rect x="233.8" y="400.8" width="15.8" height="15.7" fill="#15b6f8"/>
<rect x="248.6" y="400.8" width="15.8" height="15.7" fill="#107df8"/>
<rect x="263.4" y="400.8" width="45.4" height="15.7" fill="#15b6f8"/>
<rect x="307.8" y="400.8" width="45.4" height="15.7" fill="#107df8"/>
<rect x="352.2" y="400.8" width="30.6" height="15.7" fill="#1039f8"/>
<rect x="381.8" y="400.8" width="15.8" height="15.7" fill="#107df8"/>
<rect x="396.6" y="400.8" width="15.8" height="15.7" fill="#1039f8"/>
<rect x="411.4" y="400.8" width="30.6" height="15.7" fill="#107df8"/>
<rect x="441.0" y="400.8" width="15.8" height="15.7" fill="#28cd5e"/>
<rect x="455.8" y="400.8" width="30.6" height="15.7" fill="#22eeea"/>
<rect x="485.4" y="400.8" width="30.6" height="15.7" fill="#15b6f8"/>
<rect x="515.0" y="400.8" width="89.0" height="15.7" fill="#107df8"/>
<rect x="131.0" y="415.5" width="29.8" height="15.7" fill="#1039f8"/>
<rect x="159.8" y="415.5" width="45.4" height="15.7" fill="#107df8"/>
<rect x="204.2" y="415.5" width="15.8" height="15.7" fill="#15b6f8"/>
<rect x="219.0" y="415.5" width="30.6" height="15.7" fill="#107df8"/>
<rect x="248.6" y="415.5" width="15.8" height="15.7" fill="#15b6f8"/>
<rect x="263.4" y="415.5" width="15.8" height="15.7" fill="#22eeea"/>
<rect x="278.2" y="415.5" width="15.8" height="15.7" fill="#15b6f8"/>
<rect x="293.0" y="415.5" width="45.4" height="15.7" fill="#107df8"/>
<rect x="337.4" y="415.5" width="89.8" height="15.7" fill="#1039f8"/>
<rect x="426.2" y="415.5" width="15.8" height="15.7" fill="#107df8"/>
<rect x="441.0" y="415.5" width="60.2" height="15.7" fill="#22eeea"/>
<rect x="500.2" y="415.5" width="30.6" height="15.7" fill="#15b6f8"/>
<rect x="529.8" y="415.5" width="74.2" height="15.7" fill="#107df8"/>
<rect x="131.0" y="430.3" width="29.8" height="15.7" fill="#1039f8"/>
<rect x="159.8" y="430.3" width="30.6" height="15.7" fill="#107df8"/>
<rect x="189.4" y="430.3" width="30.6" height="15.7" fill="#15b6f8"/>
<rect x="219.0" y="430.3" width="15.8" height="15.7" fill="#30e0ac"/>
<rect x="233.8" y="430.3" width="15.8" height="15.7" fill="#107df8"/>
<rect x="248.6" y="430.3" width="45.4" height="15.7" fill="#15b6f8"/>
<rect x="293.0" y="430.3" width="30.6" height="15.7" fill="#107df8"/>
<rect x="322.6" y="430.3" width="104.6" height="15.7" fill="#1039f8"/>
<rect x="426.2" y="430.3" width="15.8" height="15.7" fill="#107df8"/>
<rect x="441.0" y="430.3" width="15.8" height="15.7" fill="#15b6f8"/>
<rect x="455.8" y="430.3" width="15.8" height="15.7" fill="#22eeea"/>
<rect x="470.6" y="430.3" width="15.8" height="15.7" fill="#24b808"/>
<rect x="485.4" y="430.3" width="15.8" height="15.7" fill="#28cd5e"/>
<rect x="500.2" y="430.3" width="15.8" height="15.7" fill="#22eeea"/>
<rect x="515.0" y="430.3" width="30.6" height="15.7" fill="#15b6f8"/>
<rect x="544.6" y="430.3" width="59.4" height="15.7" fill="#107df8"/>
<rect x="131.0" y="445.0" width="29.8" height="15.7" fill="#107df8"/>
<rect x="159.8" y="445.0" width="15.8" height="15.7" fill="#15b6f8"/>
<rect x="174.6" y="445.0" width="30.6" height="15.7" fill="#22eeea"/>
<rect x="204.2" y="445.0" width="15.8" height="15.7" fill="#15b6f8"/>
<rect x="219.0" y="445.0" width="15.8" height="15.7" fill="#1039f8"/>
<rect x="233.8" y="445.0" width="15.8" height="15.7" fill="#107df8"/>
<rect x="248.6" y="445.0" width="30.6" height="15.7" fill="#15b6f8"/>
<rect x="278.2" y="445.0" width="60.2" height="15.7" fill="#107df8"/>
<rect x="337.4" y="445.0" width="89.8" height="15.7" fill="#1039f8"/>
<rect x="426.2" y="445.0" width="30.6" height="15.7" fill="#107df8"/>
<rect x="455.8" y="445.0" width="15.8" height="15.7" fill="#15b6f8"/>
<rect x="470.6" y="445.0" width="30.6" height="15.7" fill="#24b808"/>
<rect x="500.2" y="445.0" width="30.6" height="15.7" fill="#22eeea"/>
<rect x="529.8" y="445.0" width="15.8" height="15.7" fill="#15b6f8"/>
<rect x="544.6" y="445.0" width="59.4" height="15.7" fill="#107df8"/>
<rect x="131.0" y="459.8" width="29.8" height="15.7" fill="#107df8"/>
<rect x="159.8" y="459.8" width="15.8" height="15.7" fill="#22eeea"/>
<rect x="174.6" y="459.8" width="15.8" height="15.7" fill="#28cd5e"/>
<rect x="189.4" y="459.8" width="30.6" height="15.7" fill="#24b808"/>
<rect x="219.0" y="459.8" width="15.8" height="15.7" fill="#15b6f8"/>
<rect x="233.8" y="459.8" width="15.8" height="15.7" fill="#107df8"/>
<rect x="248.6" y="459.8" width="15.8" height="15.7" fill="#15b6f8"/>
<rect x="263.4" y="459.8" width="30.6" height="15.7" fill="#107df8"/>
<rect x="293.0" y="459.8" width="15.8" height="15.7" fill="#15b6f8"/>
<rect x="307.8" y="459.8" width="45.4" height="15.7" fill="#107df8"/>
<rect x="352.2" y="459.8" width="75.0" height="15.7" fill="#1039f8"/>
<rect x="426.2" y="459.8" width="45.4" height="15.7" fill="#107df8"/>
<rect x="470.6" y="459.8" width="15.8" height="15.7" fill="#30e0ac"/>
<rect x="485.4" y="459.8" width="15.8" height="15.7" fill="#24b808"/>
<rect x="500.2" y="459.8" width="15.8" height="15.7" fill="#28cd5e"/>
<rect x="515.0" y="459.8" width="30.6" height="15.7" fill="#22eeea"/>
<rect x="544.6" y="459.8" width="59.4" height="15.7" fill="#15b6f8"/>
<rect x="131.0" y="474.5" width="29.8" height="15.7" fill="#22eeea"/>
<rect x="159.8" y="474.5" width="15.8" height="15.7" fill="#28cd5e"/>
<rect x="174.6" y="474.5" width="30.6" height="15.7" fill="#24b808"/>
<rect x="204.2" y="474.5" width="15.8" height="15.7" fill="#28cd5e"/>
<rect x="219.0" y="474.5" width="15.8" height="15.7" fill="#22eeea"/>
<rect x="233.8" y="474.5" width="75.0" height="15.7" fill="#107df8"/>
<rect x="307.8" y="474.5" width="104.6" height="15.7" fill="#1039f8"/>
<rect x="411.4" y="474.5" width="30.6" height="15.7" fill="#107df8"/>
<rect x="441.0" y="474.5" width="15.8" height="15.7" fill="#1039f8"/>
<rect x="455.8" y="474.5" width="15.8" height="15.7" fill="#107df8"/>
<rect x="470.6" y="474.5" width="15.8" height="15.7" fill="#22eeea"/>
<rect x="485.4" y="474.5" width="15.8" height="15.7" fill="#28cd5e"/>
<rect x="500.2" y="474.5" width="15.8" height="15.7" fill="#24b808"/>
<rect x="515.0" y="474.5" width="30.6" height="15.7" fill="#28cd5e"/>
<rect x="544.6" y="474.5" width="59.4" height="15.7" fill="#30e0ac"/>
<rect x="131.0" y="489.2" width="44.6" height="15.7" fill="#6dd000"/>
<rect x="174.6" y="489.2" width="15.8" height="15.7" fill="#24b808"/>
<rect x="189.4" y="489.2" width="15.8" height="15.7" fill="#30e0ac"/>
<rect x="204.2" y="489.2" width="15.8" height="15.7" fill="#22eeea"/>
<rect x="219.0" y="489.2" width="15.8" height="15.7" fill="#15b6f8"/>
<rect x="233.8" y="489.2" width="15.8" height="15.7" fill="#107df8"/>
<rect x="248.6" y="489.2" width="104.6" height="15.7" fill="#1039f8"/>
<rect x="352.2" y="489.2" width="15.8" height="15.7" fill="#107df8"/>
<rect x="367.0" y="489.2" width="89.8" height="15.7" fill="#1039f8"/>
<rect x="455.8" y="489.2" width="15.8" height="15.7" fill="#107df8"/>
<rect x="470.6" y="489.2" width="15.8" height="15.7" fill="#22eeea"/>
<rect x="485.4" y="489.2" width="15.8" height="15.7" fill="#24b808"/>
<rect x="500.2" y="489.2" width="45.4" height="15.7" fill="#6dd000"/>
<rect x="544.6" y="489.2" width="59.4" height="15.7" fill="#24b808"/>
<rect x="131.0" y="503.9" width="74.2" height="15.7" fill="#22eeea"/>
<rect x="204.2" y="503.9" width="15.8" height="15.7" fill="#15b6f8"/>
<rect x="219.0" y="503.9" width="252.6" height="15.7" fill="#1039f8"/>
<rect x="470.6" y="503.9" width="15.8" height="15.7" fill="#15b6f8"/>
<rect x="485.4" y="503.9" width="15.8" height="15.7" fill="#22eeea"/>
<rect x="500.2" y="503.9" width="15.8" height="15.7" fill="#30e0ac"/>
<rect x="515.0" y="503.9" width="89.0" height="15.7" fill="#22eeea"/>
<rect x="131.0" y="518.7" width="177.8" height="15.7" fill="#1039f8"/>
<rect x="307.8" y="518.7" width="15.8" height="15.7" fill="#1028ef"/>
<rect x="322.6" y="518.7" width="149.0" height="15.7" fill="#1039f8"/>
<rect x="470.6" y="518.7" width="133.4" height="15.7" fill="#107df8"/>
<rect x="131.0" y="533.4" width="473.0" height="29.7" fill="#1039f8"/>
<g filter="url(#bl2)">
<path d="M376.0,339.0 C378.3,340.7 383.2,343.8 390.0,349.0 C396.8,354.2 407.8,362.9 416.7,370.3 C425.6,377.8 436.1,386.5 443.3,393.7 C450.5,400.9 454.4,406.5 460.0,413.7 C465.6,420.9 470.0,429.2 476.7,437.0 C483.4,444.8 491.7,453.1 500.0,460.3 C508.3,467.5 516.4,474.9 526.7,480.3 C537.0,485.8 556.1,490.9 562.0,493.0" fill="none" stroke="#22eeea" stroke-width="42" stroke-linecap="round" stroke-linejoin="round"/>
<path d="M382.0,343.0 C383.3,344.0 384.2,344.4 390.0,349.0 C395.8,353.6 407.8,362.9 416.7,370.3 C425.6,377.8 436.1,386.5 443.3,393.7 C450.5,400.9 454.4,406.5 460.0,413.7 C465.6,420.9 470.0,429.2 476.7,437.0 C483.4,444.8 491.7,453.1 500.0,460.3 C508.3,467.5 516.7,475.0 526.7,480.3 C536.7,485.6 554.5,490.1 560.0,492.0" fill="none" stroke="#28cd5e" stroke-width="26" stroke-linecap="round" stroke-linejoin="round"/>
<path d="M405.0,362.0 C411.4,367.3 434.1,385.1 443.3,393.7 C452.5,402.3 454.4,406.5 460.0,413.7 C465.6,420.9 470.0,429.2 476.7,437.0 C483.4,444.8 491.7,453.1 500.0,460.3 C508.3,467.5 517.5,475.2 526.7,480.3 C535.9,485.4 550.3,489.2 555.0,491.0" fill="none" stroke="#24b808" stroke-width="13" stroke-linecap="round" stroke-linejoin="round"/>
<circle cx="532" cy="489" r="5" fill="#6dd000"/>
</g>
</g>
</g>
<use href="#grat" transform="translate(0,236.05)"/>
</g>
<ellipse cx="367.0" cy="437.65" rx="221.6" ry="110.1" fill="none" stroke="#f4f08a" stroke-width="0.8" stroke-opacity="0.7"/>
<path d="M146.5,455.1 C147.9,454.0 152.4,450.8 155.0,448.6 C157.6,446.4 160.8,443.0 162.0,441.9" fill="none" stroke="#000" stroke-width="2"/>
<path d="M229.0,373.1 C230.5,372.0 231.8,370.4 238.0,366.6 C244.2,362.7 256.0,355.4 265.9,349.8 C275.8,344.1 292.2,335.7 297.5,332.9" fill="none" stroke="#000" stroke-width="2"/>
<path d="M423.0,332.4 C425.3,334.3 432.3,340.2 436.7,344.2 C441.1,348.3 445.6,352.9 449.5,356.6 C453.4,360.2 456.1,362.0 460.0,365.9 C463.9,369.7 468.7,375.0 473.0,379.9 C477.3,384.7 482.0,390.4 486.0,395.1 C490.0,399.8 493.2,403.7 496.8,408.1 C500.4,412.4 504.3,416.6 507.7,421.1 C511.1,425.6 514.5,431.6 517.4,435.1 C520.3,438.5 521.9,439.3 525.0,441.6 C528.1,444.0 532.2,447.1 535.8,449.2 C539.4,451.4 543.1,453.2 546.7,454.6 C550.3,456.1 553.9,457.2 557.5,457.9 C561.1,458.5 564.7,458.5 568.3,458.4 C571.9,458.2 575.8,457.6 579.2,456.9 C582.6,456.1 587.2,454.5 588.8,454.1" fill="none" stroke="#000" stroke-width="2"/>
<path d="M210.0,515.4 C210.8,515.0 213.5,515.0 214.7,513.0 C215.9,511.1 216.4,508.0 217.0,503.8 C217.6,499.5 217.8,492.4 218.2,487.4 C218.6,482.3 218.5,478.1 219.3,473.4 C220.1,468.6 222.2,461.4 222.8,459.1" fill="none" stroke="#000" stroke-width="2"/>
<path d="M270.0,392.1 C271.7,390.7 276.7,386.6 280.0,384.1 C283.3,381.6 286.7,379.4 290.0,377.1 C293.3,374.7 296.7,372.1 300.0,370.1 C303.3,368.1 306.7,366.6 310.0,365.1 C313.3,363.6 316.7,362.1 320.0,361.1 C323.3,360.0 326.7,359.2 330.0,358.5 C333.3,357.7 336.7,357.0 340.0,356.6 C343.3,356.2 346.7,356.0 350.0,356.1 C353.3,356.1 356.7,356.6 360.0,357.1 C363.3,357.5 366.7,357.8 370.0,358.6 C373.3,359.5 376.1,360.1 380.0,362.1 C383.9,364.0 389.1,367.4 393.3,370.1 C397.5,372.7 400.0,374.3 405.0,378.1 C410.0,381.8 417.5,386.9 423.3,392.4 C429.1,397.9 435.2,405.6 439.7,411.1 C444.2,416.5 447.1,420.4 450.2,425.1 C453.3,429.7 455.6,433.6 458.3,439.1 C461.0,444.5 464.2,451.5 466.5,457.8 C468.8,464.0 470.6,470.1 472.3,476.4 C474.1,482.6 475.2,489.6 477.0,495.1 C478.8,500.5 480.7,505.6 482.8,509.1 C484.9,512.5 486.1,514.7 489.8,516.0 C493.5,517.4 499.6,517.0 505.0,517.2 C510.4,517.5 519.6,517.2 522.5,517.2" fill="none" stroke="#000" stroke-width="2"/>
<path d="M162.0,441.9 C164.2,439.7 170.1,433.9 175.0,429.1 C179.9,424.2 185.5,419.0 191.3,412.8 C197.1,406.5 203.7,398.4 210.0,391.8 C216.3,385.1 225.8,376.2 229.0,373.1" fill="none" stroke="#000" stroke-width="1.3" stroke-dasharray="2.6,2.4"/>
<path d="M222.8,459.1 C223.4,456.8 223.8,450.7 226.3,445.4 C228.8,440.0 234.1,432.3 238.0,426.8 C241.9,421.2 246.3,416.2 250.0,412.1 C253.7,407.9 256.7,404.9 260.0,401.6 C263.3,398.2 268.3,393.6 270.0,392.1" fill="none" stroke="#000" stroke-width="1.3" stroke-dasharray="2.6,2.4"/>
<text x="278.2" y="451.85" class="mk" fill="#0a1420" textLength="42.8" lengthAdjust="spacingAndGlyphs">Downwind</text>
<text x="347.7" y="449.65" class="mk" fill="#eef0c4" textLength="38.3" lengthAdjust="spacingAndGlyphs">Offset Tail</text>
<use href="#labs" transform="translate(0,236.05)"/>
<rect x="63.5" y="332.35" width="12.5" height="222.30" fill="url(#cm)" stroke="#d8b050" stroke-width="1"/>
<path d="M64,526.86 h3 M72.5,526.86 h3" stroke="#f0c040" stroke-width="1"/>
<path d="M64,499.08 h3 M72.5,499.08 h3" stroke="#f0c040" stroke-width="1"/>
<path d="M64,471.29 h3 M72.5,471.29 h3" stroke="#f0c040" stroke-width="1"/>
<path d="M64,443.50 h3 M72.5,443.50 h3" stroke="#f0c040" stroke-width="1"/>
<path d="M64,415.71 h3 M72.5,415.71 h3" stroke="#f0c040" stroke-width="1"/>
<path d="M64,387.93 h3 M72.5,387.93 h3" stroke="#f0c040" stroke-width="1"/>
<path d="M64,360.14 h3 M72.5,360.14 h3" stroke="#f0c040" stroke-width="1"/>
<text x="81.3" y="558.55" class="cl">0</text>
<text x="81.3" y="504.98" class="cl">100</text>
<text x="81.3" y="449.40" class="cl">200</text>
<text x="81.3" y="393.83" class="cl">300</text>
<text x="81.3" y="339.75" class="cl">400</text>
<text x="144.2" y="342.30" class="en" textLength="86.6" lengthAdjust="spacingAndGlyphs">~1.11 keV</text>
<clipPath id="c2"><ellipse cx="367.0" cy="673.70" rx="222.0" ry="110.5"/></clipPath>
<g clip-path="url(#c2)"><g filter="url(#bl)"><g shape-rendering="crispEdges">
<rect x="131.0" y="549.2" width="148.2" height="29.7" fill="#107df8"/>
<rect x="278.2" y="549.2" width="15.8" height="29.7" fill="#15b6f8"/>
<rect x="293.0" y="549.2" width="15.8" height="29.7" fill="#22eeea"/>
<rect x="307.8" y="549.2" width="15.8" height="29.7" fill="#30e0ac"/>
<rect x="322.6" y="549.2" width="60.2" height="29.7" fill="#24b808"/>
<rect x="381.8" y="549.2" width="15.8" height="29.7" fill="#28cd5e"/>
<rect x="396.6" y="549.2" width="30.6" height="29.7" fill="#22eeea"/>
<rect x="426.2" y="549.2" width="15.8" height="29.7" fill="#15b6f8"/>
<rect x="441.0" y="549.2" width="163.0" height="29.7" fill="#107df8"/>
<rect x="131.0" y="577.9" width="118.6" height="15.7" fill="#107df8"/>
<rect x="248.6" y="577.9" width="15.8" height="15.7" fill="#15b6f8"/>
<rect x="263.4" y="577.9" width="15.8" height="15.7" fill="#22eeea"/>
<rect x="278.2" y="577.9" width="15.8" height="15.7" fill="#30e0ac"/>
<rect x="293.0" y="577.9" width="30.6" height="15.7" fill="#28cd5e"/>
<rect x="322.6" y="577.9" width="15.8" height="15.7" fill="#30e0ac"/>
<rect x="337.4" y="577.9" width="15.8" height="15.7" fill="#22eeea"/>
<rect x="352.2" y="577.9" width="15.8" height="15.7" fill="#28cd5e"/>
<rect x="367.0" y="577.9" width="45.4" height="15.7" fill="#24b808"/>
<rect x="411.4" y="577.9" width="15.8" height="15.7" fill="#30e0ac"/>
<rect x="426.2" y="577.9" width="15.8" height="15.7" fill="#22eeea"/>
<rect x="441.0" y="577.9" width="15.8" height="15.7" fill="#15b6f8"/>
<rect x="455.8" y="577.9" width="15.8" height="15.7" fill="#107df8"/>
<rect x="470.6" y="577.9" width="15.8" height="15.7" fill="#1039f8"/>
<rect x="485.4" y="577.9" width="118.6" height="15.7" fill="#107df8"/>
<rect x="131.0" y="592.7" width="103.8" height="15.7" fill="#107df8"/>
<rect x="233.8" y="592.7" width="30.6" height="15.7" fill="#15b6f8"/>
<rect x="263.4" y="592.7" width="15.8" height="15.7" fill="#22eeea"/>
<rect x="278.2" y="592.7" width="15.8" height="15.7" fill="#30e0ac"/>
<rect x="293.0" y="592.7" width="15.8" height="15.7" fill="#22eeea"/>
<rect x="307.8" y="592.7" width="45.4" height="15.7" fill="#15b6f8"/>
<rect x="352.2" y="592.7" width="15.8" height="15.7" fill="#22eeea"/>
<rect x="367.0" y="592.7" width="15.8" height="15.7" fill="#30e0ac"/>
<rect x="381.8" y="592.7" width="45.4" height="15.7" fill="#24b808"/>
<rect x="426.2" y="592.7" width="15.8" height="15.7" fill="#30e0ac"/>
<rect x="441.0" y="592.7" width="15.8" height="15.7" fill="#22eeea"/>
<rect x="455.8" y="592.7" width="15.8" height="15.7" fill="#15b6f8"/>
<rect x="470.6" y="592.7" width="15.8" height="15.7" fill="#107df8"/>
<rect x="485.4" y="592.7" width="45.4" height="15.7" fill="#1039f8"/>
<rect x="529.8" y="592.7" width="74.2" height="15.7" fill="#107df8"/>
<rect x="131.0" y="607.4" width="103.8" height="15.7" fill="#107df8"/>
<rect x="233.8" y="607.4" width="30.6" height="15.7" fill="#15b6f8"/>
<rect x="263.4" y="607.4" width="15.8" height="15.7" fill="#22eeea"/>
<rect x="278.2" y="607.4" width="15.8" height="15.7" fill="#30e0ac"/>
<rect x="293.0" y="607.4" width="15.8" height="15.7" fill="#15b6f8"/>
<rect x="307.8" y="607.4" width="60.2" height="15.7" fill="#107df8"/>
<rect x="367.0" y="607.4" width="15.8" height="15.7" fill="#15b6f8"/>
<rect x="381.8" y="607.4" width="15.8" height="15.7" fill="#22eeea"/>
<rect x="396.6" y="607.4" width="15.8" height="15.7" fill="#28cd5e"/>
<rect x="411.4" y="607.4" width="45.4" height="15.7" fill="#24b808"/>
<rect x="455.8" y="607.4" width="15.8" height="15.7" fill="#30e0ac"/>
<rect x="470.6" y="607.4" width="15.8" height="15.7" fill="#22eeea"/>
<rect x="485.4" y="607.4" width="15.8" height="15.7" fill="#15b6f8"/>
<rect x="500.2" y="607.4" width="103.8" height="15.7" fill="#107df8"/>
<rect x="131.0" y="622.1" width="59.4" height="15.7" fill="#107df8"/>
<rect x="189.4" y="622.1" width="15.8" height="15.7" fill="#1039f8"/>
<rect x="204.2" y="622.1" width="15.8" height="15.7" fill="#107df8"/>
<rect x="219.0" y="622.1" width="15.8" height="15.7" fill="#1039f8"/>
<rect x="233.8" y="622.1" width="15.8" height="15.7" fill="#15b6f8"/>
<rect x="248.6" y="622.1" width="30.6" height="15.7" fill="#22eeea"/>
<rect x="278.2" y="622.1" width="45.4" height="15.7" fill="#15b6f8"/>
<rect x="322.6" y="622.1" width="60.2" height="15.7" fill="#107df8"/>
<rect x="381.8" y="622.1" width="15.8" height="15.7" fill="#15b6f8"/>
<rect x="396.6" y="622.1" width="15.8" height="15.7" fill="#22eeea"/>
<rect x="411.4" y="622.1" width="15.8" height="15.7" fill="#30e0ac"/>
<rect x="426.2" y="622.1" width="45.4" height="15.7" fill="#24b808"/>
<rect x="470.6" y="622.1" width="15.8" height="15.7" fill="#30e0ac"/>
<rect x="485.4" y="622.1" width="30.6" height="15.7" fill="#22eeea"/>
<rect x="515.0" y="622.1" width="89.0" height="15.7" fill="#15b6f8"/>
<rect x="131.0" y="636.9" width="44.6" height="15.7" fill="#107df8"/>
<rect x="174.6" y="636.9" width="15.8" height="15.7" fill="#1039f8"/>
<rect x="189.4" y="636.9" width="30.6" height="15.7" fill="#107df8"/>
<rect x="219.0" y="636.9" width="15.8" height="15.7" fill="#1039f8"/>
<rect x="233.8" y="636.9" width="75.0" height="15.7" fill="#15b6f8"/>
<rect x="307.8" y="636.9" width="45.4" height="15.7" fill="#107df8"/>
<rect x="352.2" y="636.9" width="45.4" height="15.7" fill="#1039f8"/>
<rect x="396.6" y="636.9" width="15.8" height="15.7" fill="#15b6f8"/>
<rect x="411.4" y="636.9" width="15.8" height="15.7" fill="#22eeea"/>
<rect x="426.2" y="636.9" width="15.8" height="15.7" fill="#28cd5e"/>
<rect x="441.0" y="636.9" width="30.6" height="15.7" fill="#24b808"/>
<rect x="470.6" y="636.9" width="15.8" height="15.7" fill="#28cd5e"/>
<rect x="485.4" y="636.9" width="30.6" height="15.7" fill="#30e0ac"/>
<rect x="515.0" y="636.9" width="45.4" height="15.7" fill="#22eeea"/>
<rect x="559.4" y="636.9" width="44.6" height="15.7" fill="#15b6f8"/>
<rect x="131.0" y="651.6" width="103.8" height="15.7" fill="#107df8"/>
<rect x="233.8" y="651.6" width="75.0" height="15.7" fill="#15b6f8"/>
<rect x="307.8" y="651.6" width="30.6" height="15.7" fill="#107df8"/>
<rect x="337.4" y="651.6" width="75.0" height="15.7" fill="#1039f8"/>
<rect x="411.4" y="651.6" width="30.6" height="15.7" fill="#107df8"/>
<rect x="441.0" y="651.6" width="15.8" height="15.7" fill="#28cd5e"/>
<rect x="455.8" y="651.6" width="30.6" height="15.7" fill="#24b808"/>
<rect x="485.4" y="651.6" width="15.8" height="15.7" fill="#28cd5e"/>
<rect x="500.2" y="651.6" width="30.6" height="15.7" fill="#30e0ac"/>
<rect x="529.8" y="651.6" width="45.4" height="15.7" fill="#22eeea"/>
<rect x="574.2" y="651.6" width="29.8" height="15.7" fill="#15b6f8"/>
<rect x="131.0" y="666.3" width="29.8" height="15.7" fill="#15b6f8"/>
<rect x="159.8" y="666.3" width="15.8" height="15.7" fill="#107df8"/>
<rect x="174.6" y="666.3" width="15.8" height="15.7" fill="#15b6f8"/>
<rect x="189.4" y="666.3" width="15.8" height="15.7" fill="#22eeea"/>
<rect x="204.2" y="666.3" width="45.4" height="15.7" fill="#107df8"/>
<rect x="248.6" y="666.3" width="45.4" height="15.7" fill="#15b6f8"/>
<rect x="293.0" y="666.3" width="45.4" height="15.7" fill="#107df8"/>
<rect x="337.4" y="666.3" width="89.8" height="15.7" fill="#1039f8"/>
<rect x="426.2" y="666.3" width="15.8" height="15.7" fill="#107df8"/>
<rect x="441.0" y="666.3" width="15.8" height="15.7" fill="#30e0ac"/>
<rect x="455.8" y="666.3" width="45.4" height="15.7" fill="#24b808"/>
<rect x="500.2" y="666.3" width="15.8" height="15.7" fill="#28cd5e"/>
<rect x="515.0" y="666.3" width="30.6" height="15.7" fill="#30e0ac"/>
<rect x="544.6" y="666.3" width="59.4" height="15.7" fill="#22eeea"/>
<rect x="131.0" y="681.1" width="59.4" height="15.7" fill="#22eeea"/>
<rect x="189.4" y="681.1" width="15.8" height="15.7" fill="#30e0ac"/>
<rect x="204.2" y="681.1" width="15.8" height="15.7" fill="#22eeea"/>
<rect x="219.0" y="681.1" width="30.6" height="15.7" fill="#107df8"/>
<rect x="248.6" y="681.1" width="15.8" height="15.7" fill="#15b6f8"/>
<rect x="263.4" y="681.1" width="75.0" height="15.7" fill="#107df8"/>
<rect x="337.4" y="681.1" width="89.8" height="15.7" fill="#1039f8"/>
<rect x="426.2" y="681.1" width="15.8" height="15.7" fill="#107df8"/>
<rect x="441.0" y="681.1" width="15.8" height="15.7" fill="#22eeea"/>
<rect x="455.8" y="681.1" width="45.4" height="15.7" fill="#24b808"/>
<rect x="500.2" y="681.1" width="15.8" height="15.7" fill="#28cd5e"/>
<rect x="515.0" y="681.1" width="60.2" height="15.7" fill="#30e0ac"/>
<rect x="574.2" y="681.1" width="29.8" height="15.7" fill="#22eeea"/>
<rect x="131.0" y="695.8" width="29.8" height="15.7" fill="#30e0ac"/>
<rect x="159.8" y="695.8" width="30.6" height="15.7" fill="#28cd5e"/>
<rect x="189.4" y="695.8" width="15.8" height="15.7" fill="#24b808"/>
<rect x="204.2" y="695.8" width="15.8" height="15.7" fill="#22eeea"/>
<rect x="219.0" y="695.8" width="30.6" height="15.7" fill="#107df8"/>
<rect x="248.6" y="695.8" width="15.8" height="15.7" fill="#15b6f8"/>
<rect x="263.4" y="695.8" width="30.6" height="15.7" fill="#107df8"/>
<rect x="293.0" y="695.8" width="15.8" height="15.7" fill="#15b6f8"/>
<rect x="307.8" y="695.8" width="30.6" height="15.7" fill="#107df8"/>
<rect x="337.4" y="695.8" width="75.0" height="15.7" fill="#1039f8"/>
<rect x="411.4" y="695.8" width="30.6" height="15.7" fill="#107df8"/>
<rect x="441.0" y="695.8" width="15.8" height="15.7" fill="#15b6f8"/>
<rect x="455.8" y="695.8" width="15.8" height="15.7" fill="#28cd5e"/>
<rect x="470.6" y="695.8" width="45.4" height="15.7" fill="#24b808"/>
<rect x="515.0" y="695.8" width="15.8" height="15.7" fill="#28cd5e"/>
<rect x="529.8" y="695.8" width="30.6" height="15.7" fill="#30e0ac"/>
<rect x="559.4" y="695.8" width="44.6" height="15.7" fill="#22eeea"/>
<rect x="131.0" y="710.5" width="29.8" height="15.7" fill="#28cd5e"/>
<rect x="159.8" y="710.5" width="30.6" height="15.7" fill="#24b808"/>
<rect x="189.4" y="710.5" width="15.8" height="15.7" fill="#28cd5e"/>
<rect x="204.2" y="710.5" width="15.8" height="15.7" fill="#30e0ac"/>
<rect x="219.0" y="710.5" width="15.8" height="15.7" fill="#22eeea"/>
<rect x="233.8" y="710.5" width="30.6" height="15.7" fill="#15b6f8"/>
<rect x="263.4" y="710.5" width="75.0" height="15.7" fill="#107df8"/>
<rect x="337.4" y="710.5" width="60.2" height="15.7" fill="#1039f8"/>
<rect x="396.6" y="710.5" width="45.4" height="15.7" fill="#107df8"/>
<rect x="441.0" y="710.5" width="15.8" height="15.7" fill="#15b6f8"/>
<rect x="455.8" y="710.5" width="15.8" height="15.7" fill="#22eeea"/>
<rect x="470.6" y="710.5" width="133.4" height="15.7" fill="#24b808"/>
<rect x="131.0" y="725.3" width="44.6" height="15.7" fill="#6dd000"/>
<rect x="174.6" y="725.3" width="30.6" height="15.7" fill="#24b808"/>
<rect x="204.2" y="725.3" width="15.8" height="15.7" fill="#30e0ac"/>
<rect x="219.0" y="725.3" width="15.8" height="15.7" fill="#22eeea"/>
<rect x="233.8" y="725.3" width="15.8" height="15.7" fill="#15b6f8"/>
<rect x="248.6" y="725.3" width="104.6" height="15.7" fill="#107df8"/>
<rect x="352.2" y="725.3" width="30.6" height="15.7" fill="#1039f8"/>
<rect x="381.8" y="725.3" width="15.8" height="15.7" fill="#107df8"/>
<rect x="396.6" y="725.3" width="15.8" height="15.7" fill="#1039f8"/>
<rect x="411.4" y="725.3" width="45.4" height="15.7" fill="#107df8"/>
<rect x="455.8" y="725.3" width="15.8" height="15.7" fill="#22eeea"/>
<rect x="470.6" y="725.3" width="15.8" height="15.7" fill="#28cd5e"/>
<rect x="485.4" y="725.3" width="15.8" height="15.7" fill="#24b808"/>
<rect x="500.2" y="725.3" width="15.8" height="15.7" fill="#c2ea00"/>
<rect x="515.0" y="725.3" width="15.8" height="15.7" fill="#efec00"/>
<rect x="529.8" y="725.3" width="15.8" height="15.7" fill="#f3c800"/>
<rect x="544.6" y="725.3" width="15.8" height="15.7" fill="#efec00"/>
<rect x="559.4" y="725.3" width="44.6" height="15.7" fill="#c2ea00"/>
<rect x="131.0" y="740.0" width="74.2" height="15.7" fill="#30e0ac"/>
<rect x="204.2" y="740.0" width="15.8" height="15.7" fill="#22eeea"/>
<rect x="219.0" y="740.0" width="15.8" height="15.7" fill="#15b6f8"/>
<rect x="233.8" y="740.0" width="45.4" height="15.7" fill="#107df8"/>
<rect x="278.2" y="740.0" width="15.8" height="15.7" fill="#1039f8"/>
<rect x="293.0" y="740.0" width="15.8" height="15.7" fill="#107df8"/>
<rect x="307.8" y="740.0" width="134.2" height="15.7" fill="#1039f8"/>
<rect x="441.0" y="740.0" width="15.8" height="15.7" fill="#107df8"/>
<rect x="455.8" y="740.0" width="15.8" height="15.7" fill="#15b6f8"/>
<rect x="470.6" y="740.0" width="15.8" height="15.7" fill="#22eeea"/>
<rect x="485.4" y="740.0" width="15.8" height="15.7" fill="#30e0ac"/>
<rect x="500.2" y="740.0" width="15.8" height="15.7" fill="#28cd5e"/>
<rect x="515.0" y="740.0" width="89.0" height="15.7" fill="#24b808"/>
<rect x="131.0" y="754.7" width="103.8" height="15.7" fill="#15b6f8"/>
<rect x="233.8" y="754.7" width="30.6" height="15.7" fill="#107df8"/>
<rect x="263.4" y="754.7" width="193.4" height="15.7" fill="#1039f8"/>
<rect x="455.8" y="754.7" width="15.8" height="15.7" fill="#107df8"/>
<rect x="470.6" y="754.7" width="15.8" height="15.7" fill="#15b6f8"/>
<rect x="485.4" y="754.7" width="118.6" height="15.7" fill="#22eeea"/>
<rect x="131.0" y="769.5" width="133.4" height="29.7" fill="#107df8"/>
<rect x="263.4" y="769.5" width="193.4" height="29.7" fill="#1039f8"/>
<rect x="455.8" y="769.5" width="148.2" height="29.7" fill="#107df8"/>
<g filter="url(#bl2)">
<path d="M352.0,566.0 C354.2,567.3 358.3,570.0 365.0,574.0 C371.7,578.0 382.8,584.5 392.0,590.0 C401.2,595.5 411.2,601.3 420.0,607.0 C428.8,612.7 438.0,618.5 445.0,624.0 C452.0,629.5 459.2,637.3 462.0,640.0" fill="none" stroke="#24b808" stroke-width="16" stroke-linecap="round" stroke-linejoin="round"/>
<path d="M360.0,571.0 C365.3,574.2 382.0,584.0 392.0,590.0 C402.0,596.0 411.2,601.3 420.0,607.0 C428.8,612.7 438.0,618.5 445.0,624.0 C452.0,629.5 459.2,637.3 462.0,640.0" fill="none" stroke="#c2ea00" stroke-width="12" stroke-linecap="round" stroke-linejoin="round"/>
<path d="M364.0,574.0 C368.7,576.7 382.7,584.5 392.0,590.0 C401.3,595.5 411.2,601.3 420.0,607.0 C428.8,612.7 438.5,619.0 445.0,624.0 C451.5,629.0 456.7,634.8 459.0,637.0" fill="none" stroke="#efec00" stroke-width="7" stroke-linecap="round" stroke-linejoin="round"/>
<circle cx="393" cy="590" r="4.5" fill="#e48c00"/>
<circle cx="438" cy="620" r="4.5" fill="#e48c00"/>
</g>
</g>
</g>
<use href="#grat" transform="translate(0,472.10)"/>
</g>
<ellipse cx="367.0" cy="673.70" rx="221.6" ry="110.1" fill="none" stroke="#f4f08a" stroke-width="0.8" stroke-opacity="0.7"/>
<path d="M146.5,691.1 C147.9,690.0 152.4,686.8 155.0,684.6 C157.6,682.4 160.8,679.0 162.0,677.9" fill="none" stroke="#000" stroke-width="2"/>
<path d="M229.0,609.1 C230.5,608.0 231.8,606.5 238.0,602.6 C244.2,598.7 256.0,591.4 265.9,585.8 C275.8,580.2 292.2,571.7 297.5,568.9" fill="none" stroke="#000" stroke-width="2"/>
<path d="M423.0,568.4 C425.3,570.4 432.3,576.3 436.7,580.3 C441.1,584.3 445.6,589.0 449.5,592.6 C453.4,596.2 456.1,598.0 460.0,601.9 C463.9,605.8 468.7,611.0 473.0,615.9 C477.3,620.8 482.0,626.4 486.0,631.1 C490.0,635.8 493.2,639.8 496.8,644.1 C500.4,648.4 504.3,652.6 507.7,657.1 C511.1,661.6 514.5,667.7 517.4,671.1 C520.3,674.5 521.9,675.3 525.0,677.7 C528.1,680.1 532.2,683.1 535.8,685.3 C539.4,687.5 543.1,689.3 546.7,690.7 C550.3,692.1 553.9,693.3 557.5,693.9 C561.1,694.5 564.7,694.6 568.3,694.4 C571.9,694.2 575.8,693.6 579.2,692.9 C582.6,692.2 587.2,690.6 588.8,690.1" fill="none" stroke="#000" stroke-width="2"/>
<path d="M210.0,751.4 C210.8,751.0 213.5,751.0 214.7,749.1 C215.9,747.2 216.4,744.1 217.0,739.8 C217.6,735.5 217.8,728.5 218.2,723.4 C218.6,718.3 218.5,714.1 219.3,709.4 C220.1,704.7 222.2,697.5 222.8,695.1" fill="none" stroke="#000" stroke-width="2"/>
<path d="M270.0,628.1 C271.7,626.8 276.7,622.6 280.0,620.1 C283.3,617.6 286.7,615.4 290.0,613.1 C293.3,610.8 296.7,608.1 300.0,606.1 C303.3,604.1 306.7,602.6 310.0,601.1 C313.3,599.6 316.7,598.2 320.0,597.1 C323.3,596.0 326.7,595.2 330.0,594.5 C333.3,593.8 336.7,593.1 340.0,592.7 C343.3,592.3 346.7,592.0 350.0,592.1 C353.3,592.2 356.7,592.7 360.0,593.1 C363.3,593.5 366.7,593.9 370.0,594.7 C373.3,595.5 376.1,596.2 380.0,598.1 C383.9,600.0 389.1,603.4 393.3,606.1 C397.5,608.8 400.0,610.4 405.0,614.1 C410.0,617.8 417.5,622.9 423.3,628.4 C429.1,633.9 435.2,641.7 439.7,647.1 C444.2,652.5 447.1,656.4 450.2,661.1 C453.3,665.8 455.6,669.7 458.3,675.1 C461.0,680.5 464.2,687.6 466.5,693.8 C468.8,700.0 470.6,706.2 472.3,712.4 C474.1,718.6 475.2,725.7 477.0,731.1 C478.8,736.5 480.7,741.6 482.8,745.1 C484.9,748.6 486.1,750.7 489.8,752.1 C493.5,753.5 499.6,753.1 505.0,753.3 C510.4,753.5 519.6,753.3 522.5,753.3" fill="none" stroke="#000" stroke-width="2"/>
<path d="M162.0,677.9 C164.2,675.8 170.1,670.0 175.0,665.1 C179.9,660.2 185.5,655.0 191.3,648.8 C197.1,642.6 203.7,634.4 210.0,627.8 C216.3,621.2 225.8,612.2 229.0,609.1" fill="none" stroke="#000" stroke-width="1.3" stroke-dasharray="2.6,2.4"/>
<path d="M222.8,695.1 C223.4,692.8 223.8,686.8 226.3,681.4 C228.8,676.0 234.1,668.3 238.0,662.8 C241.9,657.2 246.3,652.3 250.0,648.1 C253.7,643.9 256.7,640.9 260.0,637.6 C263.3,634.3 268.3,629.7 270.0,628.1" fill="none" stroke="#000" stroke-width="1.3" stroke-dasharray="2.6,2.4"/>
<text x="278.2" y="687.90" class="mk" fill="#0a1420" textLength="42.8" lengthAdjust="spacingAndGlyphs">Downwind</text>
<text x="347.7" y="685.70" class="mk" fill="#eef0c4" textLength="38.3" lengthAdjust="spacingAndGlyphs">Offset Tail</text>
<use href="#labs" transform="translate(0,472.10)"/>
<rect x="63.5" y="568.40" width="12.5" height="222.30" fill="url(#cm)" stroke="#d8b050" stroke-width="1"/>
<path d="M64,762.91 h3 M72.5,762.91 h3" stroke="#f0c040" stroke-width="1"/>
<path d="M64,735.12 h3 M72.5,735.12 h3" stroke="#f0c040" stroke-width="1"/>
<path d="M64,707.34 h3 M72.5,707.34 h3" stroke="#f0c040" stroke-width="1"/>
<path d="M64,679.55 h3 M72.5,679.55 h3" stroke="#f0c040" stroke-width="1"/>
<path d="M64,651.76 h3 M72.5,651.76 h3" stroke="#f0c040" stroke-width="1"/>
<path d="M64,623.98 h3 M72.5,623.98 h3" stroke="#f0c040" stroke-width="1"/>
<path d="M64,596.19 h3 M72.5,596.19 h3" stroke="#f0c040" stroke-width="1"/>
<text x="81.3" y="794.60" class="cl">0</text>
<text x="81.3" y="741.02" class="cl">35</text>
<text x="81.3" y="685.45" class="cl">70</text>
<text x="81.3" y="629.88" class="cl">105</text>
<text x="81.3" y="575.80" class="cl">140</text>
<text x="144.2" y="578.60" class="en" textLength="86.6" lengthAdjust="spacingAndGlyphs">~1.74 keV</text>
<clipPath id="c3"><ellipse cx="367.0" cy="909.75" rx="222.0" ry="110.5"/></clipPath>
<g clip-path="url(#c3)"><g filter="url(#bl)"><g shape-rendering="crispEdges">
<rect x="131.0" y="785.3" width="163.0" height="29.7" fill="#30e0ac"/>
<rect x="293.0" y="785.3" width="15.8" height="29.7" fill="#28cd5e"/>
<rect x="307.8" y="785.3" width="89.8" height="29.7" fill="#24b808"/>
<rect x="396.6" y="785.3" width="15.8" height="29.7" fill="#28cd5e"/>
<rect x="411.4" y="785.3" width="15.8" height="29.7" fill="#30e0ac"/>
<rect x="426.2" y="785.3" width="177.8" height="29.7" fill="#22eeea"/>
<rect x="131.0" y="814.0" width="118.6" height="15.7" fill="#22eeea"/>
<rect x="248.6" y="814.0" width="15.8" height="15.7" fill="#30e0ac"/>
<rect x="263.4" y="814.0" width="30.6" height="15.7" fill="#28cd5e"/>
<rect x="293.0" y="814.0" width="134.2" height="15.7" fill="#24b808"/>
<rect x="426.2" y="814.0" width="15.8" height="15.7" fill="#30e0ac"/>
<rect x="441.0" y="814.0" width="163.0" height="15.7" fill="#22eeea"/>
<rect x="131.0" y="828.7" width="103.8" height="15.7" fill="#22eeea"/>
<rect x="233.8" y="828.7" width="15.8" height="15.7" fill="#15b6f8"/>
<rect x="248.6" y="828.7" width="15.8" height="15.7" fill="#30e0ac"/>
<rect x="263.4" y="828.7" width="30.6" height="15.7" fill="#24b808"/>
<rect x="293.0" y="828.7" width="30.6" height="15.7" fill="#28cd5e"/>
<rect x="322.6" y="828.7" width="30.6" height="15.7" fill="#30e0ac"/>
<rect x="352.2" y="828.7" width="30.6" height="15.7" fill="#28cd5e"/>
<rect x="381.8" y="828.7" width="60.2" height="15.7" fill="#24b808"/>
<rect x="441.0" y="828.7" width="15.8" height="15.7" fill="#28cd5e"/>
<rect x="455.8" y="828.7" width="15.8" height="15.7" fill="#30e0ac"/>
<rect x="470.6" y="828.7" width="15.8" height="15.7" fill="#22eeea"/>
<rect x="485.4" y="828.7" width="45.4" height="15.7" fill="#15b6f8"/>
<rect x="529.8" y="828.7" width="74.2" height="15.7" fill="#22eeea"/>
<rect x="131.0" y="843.5" width="59.4" height="15.7" fill="#22eeea"/>
<rect x="189.4" y="843.5" width="30.6" height="15.7" fill="#15b6f8"/>
<rect x="219.0" y="843.5" width="15.8" height="15.7" fill="#107df8"/>
<rect x="233.8" y="843.5" width="15.8" height="15.7" fill="#22eeea"/>
<rect x="248.6" y="843.5" width="15.8" height="15.7" fill="#30e0ac"/>
<rect x="263.4" y="843.5" width="15.8" height="15.7" fill="#24b808"/>
<rect x="278.2" y="843.5" width="15.8" height="15.7" fill="#28cd5e"/>
<rect x="293.0" y="843.5" width="15.8" height="15.7" fill="#22eeea"/>
<rect x="307.8" y="843.5" width="60.2" height="15.7" fill="#15b6f8"/>
<rect x="367.0" y="843.5" width="30.6" height="15.7" fill="#22eeea"/>
<rect x="396.6" y="843.5" width="15.8" height="15.7" fill="#28cd5e"/>
<rect x="411.4" y="843.5" width="45.4" height="15.7" fill="#24b808"/>
<rect x="455.8" y="843.5" width="15.8" height="15.7" fill="#28cd5e"/>
<rect x="470.6" y="843.5" width="15.8" height="15.7" fill="#30e0ac"/>
<rect x="485.4" y="843.5" width="45.4" height="15.7" fill="#22eeea"/>
<rect x="529.8" y="843.5" width="74.2" height="15.7" fill="#15b6f8"/>
<rect x="131.0" y="858.2" width="44.6" height="15.7" fill="#15b6f8"/>
<rect x="174.6" y="858.2" width="30.6" height="15.7" fill="#107df8"/>
<rect x="204.2" y="858.2" width="15.8" height="15.7" fill="#1039f8"/>
<rect x="219.0" y="858.2" width="15.8" height="15.7" fill="#107df8"/>
<rect x="233.8" y="858.2" width="15.8" height="15.7" fill="#15b6f8"/>
<rect x="248.6" y="858.2" width="30.6" height="15.7" fill="#22eeea"/>
<rect x="278.2" y="858.2" width="30.6" height="15.7" fill="#15b6f8"/>
<rect x="307.8" y="858.2" width="15.8" height="15.7" fill="#107df8"/>
<rect x="322.6" y="858.2" width="60.2" height="15.7" fill="#1039f8"/>
<rect x="381.8" y="858.2" width="15.8" height="15.7" fill="#107df8"/>
<rect x="396.6" y="858.2" width="15.8" height="15.7" fill="#15b6f8"/>
<rect x="411.4" y="858.2" width="15.8" height="15.7" fill="#30e0ac"/>
<rect x="426.2" y="858.2" width="45.4" height="15.7" fill="#24b808"/>
<rect x="470.6" y="858.2" width="15.8" height="15.7" fill="#28cd5e"/>
<rect x="485.4" y="858.2" width="15.8" height="15.7" fill="#30e0ac"/>
<rect x="500.2" y="858.2" width="45.4" height="15.7" fill="#22eeea"/>
<rect x="544.6" y="858.2" width="59.4" height="15.7" fill="#15b6f8"/>
<rect x="131.0" y="872.9" width="29.8" height="15.7" fill="#15b6f8"/>
<rect x="159.8" y="872.9" width="15.8" height="15.7" fill="#107df8"/>
<rect x="174.6" y="872.9" width="15.8" height="15.7" fill="#1039f8"/>
<rect x="189.4" y="872.9" width="15.8" height="15.7" fill="#107df8"/>
<rect x="204.2" y="872.9" width="15.8" height="15.7" fill="#15b6f8"/>
<rect x="219.0" y="872.9" width="30.6" height="15.7" fill="#1039f8"/>
<rect x="248.6" y="872.9" width="45.4" height="15.7" fill="#107df8"/>
<rect x="293.0" y="872.9" width="60.2" height="15.7" fill="#1039f8"/>
<rect x="352.2" y="872.9" width="15.8" height="15.7" fill="#1028ef"/>
<rect x="367.0" y="872.9" width="45.4" height="15.7" fill="#1039f8"/>
<rect x="411.4" y="872.9" width="15.8" height="15.7" fill="#107df8"/>
<rect x="426.2" y="872.9" width="15.8" height="15.7" fill="#15b6f8"/>
<rect x="441.0" y="872.9" width="15.8" height="15.7" fill="#30e0ac"/>
<rect x="455.8" y="872.9" width="45.4" height="15.7" fill="#28cd5e"/>
<rect x="500.2" y="872.9" width="15.8" height="15.7" fill="#30e0ac"/>
<rect x="515.0" y="872.9" width="30.6" height="15.7" fill="#22eeea"/>
<rect x="544.6" y="872.9" width="59.4" height="15.7" fill="#15b6f8"/>
<rect x="131.0" y="887.7" width="29.8" height="15.7" fill="#15b6f8"/>
<rect x="159.8" y="887.7" width="30.6" height="15.7" fill="#107df8"/>
<rect x="189.4" y="887.7" width="15.8" height="15.7" fill="#15b6f8"/>
<rect x="204.2" y="887.7" width="15.8" height="15.7" fill="#22eeea"/>
<rect x="219.0" y="887.7" width="30.6" height="15.7" fill="#1039f8"/>
<rect x="248.6" y="887.7" width="60.2" height="15.7" fill="#107df8"/>
<rect x="307.8" y="887.7" width="30.6" height="15.7" fill="#1039f8"/>
<rect x="337.4" y="887.7" width="45.4" height="15.7" fill="#1028ef"/>
<rect x="381.8" y="887.7" width="45.4" height="15.7" fill="#1039f8"/>
<rect x="426.2" y="887.7" width="15.8" height="15.7" fill="#107df8"/>
<rect x="441.0" y="887.7" width="15.8" height="15.7" fill="#22eeea"/>
<rect x="455.8" y="887.7" width="45.4" height="15.7" fill="#28cd5e"/>
<rect x="500.2" y="887.7" width="30.6" height="15.7" fill="#30e0ac"/>
<rect x="529.8" y="887.7" width="15.8" height="15.7" fill="#22eeea"/>
<rect x="544.6" y="887.7" width="59.4" height="15.7" fill="#15b6f8"/>
<rect x="131.0" y="902.4" width="29.8" height="15.7" fill="#22eeea"/>
<rect x="159.8" y="902.4" width="30.6" height="15.7" fill="#15b6f8"/>
<rect x="189.4" y="902.4" width="30.6" height="15.7" fill="#22eeea"/>
<rect x="219.0" y="902.4" width="15.8" height="15.7" fill="#107df8"/>
<rect x="233.8" y="902.4" width="15.8" height="15.7" fill="#1039f8"/>
<rect x="248.6" y="902.4" width="60.2" height="15.7" fill="#107df8"/>
<rect x="307.8" y="902.4" width="30.6" height="15.7" fill="#1039f8"/>
<rect x="337.4" y="902.4" width="60.2" height="15.7" fill="#1028ef"/>
<rect x="396.6" y="902.4" width="30.6" height="15.7" fill="#1039f8"/>
<rect x="426.2" y="902.4" width="15.8" height="15.7" fill="#107df8"/>
<rect x="441.0" y="902.4" width="15.8" height="15.7" fill="#15b6f8"/>
<rect x="455.8" y="902.4" width="15.8" height="15.7" fill="#28cd5e"/>
<rect x="470.6" y="902.4" width="30.6" height="15.7" fill="#24b808"/>
<rect x="500.2" y="902.4" width="15.8" height="15.7" fill="#28cd5e"/>
<rect x="515.0" y="902.4" width="15.8" height="15.7" fill="#30e0ac"/>
<rect x="529.8" y="902.4" width="30.6" height="15.7" fill="#22eeea"/>
<rect x="559.4" y="902.4" width="44.6" height="15.7" fill="#15b6f8"/>
<rect x="131.0" y="917.1" width="74.2" height="15.7" fill="#22eeea"/>
<rect x="204.2" y="917.1" width="15.8" height="15.7" fill="#15b6f8"/>
<rect x="219.0" y="917.1" width="15.8" height="15.7" fill="#107df8"/>
<rect x="233.8" y="917.1" width="15.8" height="15.7" fill="#1039f8"/>
<rect x="248.6" y="917.1" width="75.0" height="15.7" fill="#107df8"/>
<rect x="322.6" y="917.1" width="30.6" height="15.7" fill="#1039f8"/>
<rect x="352.2" y="917.1" width="45.4" height="15.7" fill="#1028ef"/>
<rect x="396.6" y="917.1" width="30.6" height="15.7" fill="#1039f8"/>
<rect x="426.2" y="917.1" width="15.8" height="15.7" fill="#107df8"/>
<rect x="441.0" y="917.1" width="15.8" height="15.7" fill="#15b6f8"/>
<rect x="455.8" y="917.1" width="15.8" height="15.7" fill="#28cd5e"/>
<rect x="470.6" y="917.1" width="45.4" height="15.7" fill="#24b808"/>
<rect x="515.0" y="917.1" width="15.8" height="15.7" fill="#28cd5e"/>
<rect x="529.8" y="917.1" width="15.8" height="15.7" fill="#30e0ac"/>
<rect x="544.6" y="917.1" width="59.4" height="15.7" fill="#22eeea"/>
<rect x="131.0" y="931.9" width="44.6" height="15.7" fill="#30e0ac"/>
<rect x="174.6" y="931.9" width="15.8" height="15.7" fill="#22eeea"/>
<rect x="189.4" y="931.9" width="15.8" height="15.7" fill="#30e0ac"/>
<rect x="204.2" y="931.9" width="15.8" height="15.7" fill="#22eeea"/>
<rect x="219.0" y="931.9" width="45.4" height="15.7" fill="#107df8"/>
<rect x="263.4" y="931.9" width="45.4" height="15.7" fill="#15b6f8"/>
<rect x="307.8" y="931.9" width="15.8" height="15.7" fill="#107df8"/>
<rect x="322.6" y="931.9" width="45.4" height="15.7" fill="#1039f8"/>
<rect x="367.0" y="931.9" width="30.6" height="15.7" fill="#1028ef"/>
<rect x="396.6" y="931.9" width="15.8" height="15.7" fill="#1039f8"/>
<rect x="411.4" y="931.9" width="15.8" height="15.7" fill="#107df8"/>
<rect x="426.2" y="931.9" width="30.6" height="15.7" fill="#15b6f8"/>
<rect x="455.8" y="931.9" width="15.8" height="15.7" fill="#30e0ac"/>
<rect x="470.6" y="931.9" width="15.8" height="15.7" fill="#28cd5e"/>
<rect x="485.4" y="931.9" width="45.4" height="15.7" fill="#24b808"/>
<rect x="529.8" y="931.9" width="30.6" height="15.7" fill="#28cd5e"/>
<rect x="559.4" y="931.9" width="15.8" height="15.7" fill="#30e0ac"/>
<rect x="574.2" y="931.9" width="29.8" height="15.7" fill="#22eeea"/>
<rect x="131.0" y="946.6" width="29.8" height="15.7" fill="#30e0ac"/>
<rect x="159.8" y="946.6" width="45.4" height="15.7" fill="#28cd5e"/>
<rect x="204.2" y="946.6" width="15.8" height="15.7" fill="#30e0ac"/>
<rect x="219.0" y="946.6" width="15.8" height="15.7" fill="#22eeea"/>
<rect x="233.8" y="946.6" width="89.8" height="15.7" fill="#15b6f8"/>
<rect x="322.6" y="946.6" width="45.4" height="15.7" fill="#107df8"/>
<rect x="367.0" y="946.6" width="45.4" height="15.7" fill="#1039f8"/>
<rect x="411.4" y="946.6" width="15.8" height="15.7" fill="#107df8"/>
<rect x="426.2" y="946.6" width="15.8" height="15.7" fill="#15b6f8"/>
<rect x="441.0" y="946.6" width="15.8" height="15.7" fill="#22eeea"/>
<rect x="455.8" y="946.6" width="15.8" height="15.7" fill="#30e0ac"/>
<rect x="470.6" y="946.6" width="15.8" height="15.7" fill="#28cd5e"/>
<rect x="485.4" y="946.6" width="45.4" height="15.7" fill="#24b808"/>
<rect x="529.8" y="946.6" width="74.2" height="15.7" fill="#28cd5e"/>
<rect x="131.0" y="961.3" width="44.6" height="15.7" fill="#28cd5e"/>
<rect x="174.6" y="961.3" width="15.8" height="15.7" fill="#24b808"/>
<rect x="189.4" y="961.3" width="15.8" height="15.7" fill="#28cd5e"/>
<rect x="204.2" y="961.3" width="30.6" height="15.7" fill="#30e0ac"/>
<rect x="233.8" y="961.3" width="75.0" height="15.7" fill="#22eeea"/>
<rect x="307.8" y="961.3" width="45.4" height="15.7" fill="#15b6f8"/>
<rect x="352.2" y="961.3" width="15.8" height="15.7" fill="#107df8"/>
<rect x="367.0" y="961.3" width="15.8" height="15.7" fill="#1039f8"/>
<rect x="381.8" y="961.3" width="30.6" height="15.7" fill="#107df8"/>
<rect x="411.4" y="961.3" width="30.6" height="15.7" fill="#15b6f8"/>
<rect x="441.0" y="961.3" width="15.8" height="15.7" fill="#22eeea"/>
<rect x="455.8" y="961.3" width="15.8" height="15.7" fill="#30e0ac"/>
<rect x="470.6" y="961.3" width="15.8" height="15.7" fill="#28cd5e"/>
<rect x="485.4" y="961.3" width="30.6" height="15.7" fill="#24b808"/>
<rect x="515.0" y="961.3" width="15.8" height="15.7" fill="#6dd000"/>
<rect x="529.8" y="961.3" width="30.6" height="15.7" fill="#24b808"/>
<rect x="559.4" y="961.3" width="44.6" height="15.7" fill="#28cd5e"/>
<rect x="131.0" y="976.1" width="74.2" height="15.7" fill="#24b808"/>
<rect x="204.2" y="976.1" width="15.8" height="15.7" fill="#28cd5e"/>
<rect x="219.0" y="976.1" width="30.6" height="15.7" fill="#30e0ac"/>
<rect x="248.6" y="976.1" width="89.8" height="15.7" fill="#22eeea"/>
<rect x="337.4" y="976.1" width="30.6" height="15.7" fill="#15b6f8"/>
<rect x="367.0" y="976.1" width="30.6" height="15.7" fill="#107df8"/>
<rect x="396.6" y="976.1" width="30.6" height="15.7" fill="#15b6f8"/>
<rect x="426.2" y="976.1" width="30.6" height="15.7" fill="#22eeea"/>
<rect x="455.8" y="976.1" width="15.8" height="15.7" fill="#30e0ac"/>
<rect x="470.6" y="976.1" width="30.6" height="15.7" fill="#28cd5e"/>
<rect x="500.2" y="976.1" width="15.8" height="15.7" fill="#24b808"/>
<rect x="515.0" y="976.1" width="89.0" height="15.7" fill="#28cd5e"/>
<rect x="131.0" y="990.8" width="89.0" height="15.7" fill="#28cd5e"/>
<rect x="219.0" y="990.8" width="45.4" height="15.7" fill="#30e0ac"/>
<rect x="263.4" y="990.8" width="89.8" height="15.7" fill="#22eeea"/>
<rect x="352.2" y="990.8" width="15.8" height="15.7" fill="#15b6f8"/>
<rect x="367.0" y="990.8" width="15.8" height="15.7" fill="#107df8"/>
<rect x="381.8" y="990.8" width="60.2" height="15.7" fill="#15b6f8"/>
<rect x="441.0" y="990.8" width="30.6" height="15.7" fill="#22eeea"/>
<rect x="470.6" y="990.8" width="133.4" height="15.7" fill="#30e0ac"/>
<rect x="131.0" y="1005.5" width="133.4" height="29.7" fill="#30e0ac"/>
<rect x="263.4" y="1005.5" width="104.6" height="29.7" fill="#22eeea"/>
<rect x="367.0" y="1005.5" width="75.0" height="29.7" fill="#15b6f8"/>
<rect x="441.0" y="1005.5" width="163.0" height="29.7" fill="#22eeea"/>
<g filter="url(#bl2)">
<path d="M345.0,806.0 C348.3,806.7 359.0,808.5 365.0,810.0 C371.0,811.5 375.2,812.7 381.0,815.0 C386.8,817.3 394.7,820.8 400.0,824.0 C405.3,827.2 408.5,830.7 413.0,834.0 C417.5,837.3 422.2,840.7 427.0,844.0 C431.8,847.3 439.5,852.3 442.0,854.0" fill="none" stroke="#24b808" stroke-width="14" stroke-linecap="round" stroke-linejoin="round"/>
<path d="M352.0,808.0 C354.2,808.3 360.2,808.8 365.0,810.0 C369.8,811.2 375.2,812.7 381.0,815.0 C386.8,817.3 394.7,820.8 400.0,824.0 C405.3,827.2 408.5,830.7 413.0,834.0 C417.5,837.3 422.5,841.0 427.0,844.0 C431.5,847.0 437.8,850.7 440.0,852.0" fill="none" stroke="#efec00" stroke-width="8" stroke-linecap="round" stroke-linejoin="round"/>
<circle cx="368" cy="810" r="4" fill="#e48c00"/>
<circle cx="402" cy="825" r="5" fill="#e48c00"/>
<circle cx="404" cy="826" r="2.5" fill="#d45006"/>
</g>
</g>
</g>
<use href="#grat" transform="translate(0,708.15)"/>
</g>
<ellipse cx="367.0" cy="909.75" rx="221.6" ry="110.1" fill="none" stroke="#f4f08a" stroke-width="0.8" stroke-opacity="0.7"/>
<path d="M146.5,927.2 C147.9,926.1 152.4,922.9 155.0,920.7 C157.6,918.5 160.8,915.1 162.0,914.0" fill="none" stroke="#000" stroke-width="2"/>
<path d="M229.0,845.2 C230.5,844.1 231.8,842.5 238.0,838.7 C244.2,834.8 256.0,827.5 265.9,821.9 C275.8,816.2 292.2,807.8 297.5,805.0" fill="none" stroke="#000" stroke-width="2"/>
<path d="M423.0,804.5 C425.3,806.4 432.3,812.3 436.7,816.4 C441.1,820.4 445.6,825.1 449.5,828.7 C453.4,832.3 456.1,834.1 460.0,838.0 C463.9,841.8 468.7,847.1 473.0,852.0 C477.3,856.8 482.0,862.5 486.0,867.2 C490.0,871.9 493.2,875.8 496.8,880.2 C500.4,884.5 504.3,888.7 507.7,893.2 C511.1,897.7 514.5,903.7 517.4,907.2 C520.3,910.6 521.9,911.4 525.0,913.8 C528.1,916.1 532.2,919.2 535.8,921.4 C539.4,923.5 543.1,925.3 546.7,926.8 C550.3,928.2 553.9,929.3 557.5,930.0 C561.1,930.6 564.7,930.6 568.3,930.5 C571.9,930.3 575.8,929.7 579.2,929.0 C582.6,928.2 587.2,926.6 588.8,926.2" fill="none" stroke="#000" stroke-width="2"/>
<path d="M210.0,987.5 C210.8,987.1 213.5,987.1 214.7,985.2 C215.9,983.2 216.4,980.1 217.0,975.9 C217.6,971.6 217.8,964.5 218.2,959.5 C218.6,954.4 218.5,950.2 219.3,945.5 C220.1,940.7 222.2,933.5 222.8,931.2" fill="none" stroke="#000" stroke-width="2"/>
<path d="M270.0,864.2 C271.7,862.8 276.7,858.7 280.0,856.2 C283.3,853.7 286.7,851.5 290.0,849.2 C293.3,846.8 296.7,844.2 300.0,842.2 C303.3,840.2 306.7,838.7 310.0,837.2 C313.3,835.7 316.7,834.3 320.0,833.2 C323.3,832.1 326.7,831.3 330.0,830.6 C333.3,829.8 336.7,829.2 340.0,828.8 C343.3,828.4 346.7,828.1 350.0,828.2 C353.3,828.2 356.7,828.7 360.0,829.2 C363.3,829.6 366.7,829.9 370.0,830.8 C373.3,831.6 376.1,832.3 380.0,834.2 C383.9,836.1 389.1,839.5 393.3,842.2 C397.5,844.8 400.0,846.4 405.0,850.2 C410.0,853.9 417.5,859.0 423.3,864.5 C429.1,870.0 435.2,877.7 439.7,883.2 C444.2,888.6 447.1,892.5 450.2,897.2 C453.3,901.8 455.6,905.7 458.3,911.2 C461.0,916.6 464.2,923.6 466.5,929.9 C468.8,936.1 470.6,942.2 472.3,948.5 C474.1,954.7 475.2,961.7 477.0,967.2 C478.8,972.6 480.7,977.7 482.8,981.2 C484.9,984.7 486.1,986.8 489.8,988.2 C493.5,989.5 499.6,989.2 505.0,989.4 C510.4,989.6 519.6,989.4 522.5,989.4" fill="none" stroke="#000" stroke-width="2"/>
<path d="M162.0,914.0 C164.2,911.8 170.1,906.0 175.0,901.2 C179.9,896.3 185.5,891.1 191.3,884.9 C197.1,878.6 203.7,870.5 210.0,863.9 C216.3,857.2 225.8,848.3 229.0,845.2" fill="none" stroke="#000" stroke-width="1.3" stroke-dasharray="2.6,2.4"/>
<path d="M222.8,931.2 C223.4,928.9 223.8,922.8 226.3,917.5 C228.8,912.1 234.1,904.4 238.0,898.9 C241.9,893.3 246.3,888.4 250.0,884.2 C253.7,880.0 256.7,877.0 260.0,873.7 C263.3,870.3 268.3,865.7 270.0,864.2" fill="none" stroke="#000" stroke-width="1.3" stroke-dasharray="2.6,2.4"/>
<text x="278.2" y="923.95" class="mk" fill="#0a1420" textLength="42.8" lengthAdjust="spacingAndGlyphs">Downwind</text>
<text x="347.7" y="921.75" class="mk" fill="#eef0c4" textLength="38.3" lengthAdjust="spacingAndGlyphs">Offset Tail</text>
<use href="#labs" transform="translate(0,708.15)"/>
<rect x="63.5" y="804.45" width="12.5" height="222.30" fill="url(#cm)" stroke="#d8b050" stroke-width="1"/>
<path d="M64,998.96 h3 M72.5,998.96 h3" stroke="#f0c040" stroke-width="1"/>
<path d="M64,971.17 h3 M72.5,971.17 h3" stroke="#f0c040" stroke-width="1"/>
<path d="M64,943.39 h3 M72.5,943.39 h3" stroke="#f0c040" stroke-width="1"/>
<path d="M64,915.60 h3 M72.5,915.60 h3" stroke="#f0c040" stroke-width="1"/>
<path d="M64,887.81 h3 M72.5,887.81 h3" stroke="#f0c040" stroke-width="1"/>
<path d="M64,860.03 h3 M72.5,860.03 h3" stroke="#f0c040" stroke-width="1"/>
<path d="M64,832.24 h3 M72.5,832.24 h3" stroke="#f0c040" stroke-width="1"/>
<text x="81.3" y="1030.65" class="cl">0</text>
<text x="81.3" y="977.07" class="cl">15</text>
<text x="81.3" y="921.50" class="cl">30</text>
<text x="81.3" y="865.93" class="cl">45</text>
<text x="81.3" y="811.85" class="cl">60</text>
<text x="144.2" y="814.90" class="en" textLength="86.6" lengthAdjust="spacingAndGlyphs">~2.73 keV</text>
<clipPath id="c4"><ellipse cx="367.0" cy="1145.80" rx="222.0" ry="110.5"/></clipPath>
<g clip-path="url(#c4)"><g filter="url(#bl)"><g shape-rendering="crispEdges">
<rect x="131.0" y="1021.3" width="192.6" height="29.7" fill="#24b808"/>
<rect x="322.6" y="1021.3" width="75.0" height="29.7" fill="#6dd000"/>
<rect x="396.6" y="1021.3" width="207.4" height="29.7" fill="#24b808"/>
<rect x="131.0" y="1050.0" width="148.2" height="15.7" fill="#24b808"/>
<rect x="278.2" y="1050.0" width="15.8" height="15.7" fill="#6dd000"/>
<rect x="293.0" y="1050.0" width="15.8" height="15.7" fill="#efec00"/>
<rect x="307.8" y="1050.0" width="104.6" height="15.7" fill="#f3c800"/>
<rect x="411.4" y="1050.0" width="15.8" height="15.7" fill="#efec00"/>
<rect x="426.2" y="1050.0" width="15.8" height="15.7" fill="#6dd000"/>
<rect x="441.0" y="1050.0" width="163.0" height="15.7" fill="#24b808"/>
<rect x="131.0" y="1064.8" width="89.0" height="15.7" fill="#24b808"/>
<rect x="219.0" y="1064.8" width="30.6" height="15.7" fill="#28cd5e"/>
<rect x="248.6" y="1064.8" width="30.6" height="15.7" fill="#24b808"/>
<rect x="278.2" y="1064.8" width="30.6" height="15.7" fill="#f3c800"/>
<rect x="307.8" y="1064.8" width="15.8" height="15.7" fill="#efec00"/>
<rect x="322.6" y="1064.8" width="75.0" height="15.7" fill="#6dd000"/>
<rect x="396.6" y="1064.8" width="15.8" height="15.7" fill="#efec00"/>
<rect x="411.4" y="1064.8" width="15.8" height="15.7" fill="#f3c800"/>
<rect x="426.2" y="1064.8" width="15.8" height="15.7" fill="#efec00"/>
<rect x="441.0" y="1064.8" width="15.8" height="15.7" fill="#6dd000"/>
<rect x="455.8" y="1064.8" width="148.2" height="15.7" fill="#24b808"/>
<rect x="131.0" y="1079.5" width="59.4" height="15.7" fill="#24b808"/>
<rect x="189.4" y="1079.5" width="45.4" height="15.7" fill="#28cd5e"/>
<rect x="233.8" y="1079.5" width="45.4" height="15.7" fill="#24b808"/>
<rect x="278.2" y="1079.5" width="15.8" height="15.7" fill="#6dd000"/>
<rect x="293.0" y="1079.5" width="45.4" height="15.7" fill="#24b808"/>
<rect x="337.4" y="1079.5" width="15.8" height="15.7" fill="#28cd5e"/>
<rect x="352.2" y="1079.5" width="30.6" height="15.7" fill="#30e0ac"/>
<rect x="381.8" y="1079.5" width="15.8" height="15.7" fill="#28cd5e"/>
<rect x="396.6" y="1079.5" width="30.6" height="15.7" fill="#24b808"/>
<rect x="426.2" y="1079.5" width="15.8" height="15.7" fill="#6dd000"/>
<rect x="441.0" y="1079.5" width="75.0" height="15.7" fill="#24b808"/>
<rect x="515.0" y="1079.5" width="15.8" height="15.7" fill="#28cd5e"/>
<rect x="529.8" y="1079.5" width="74.2" height="15.7" fill="#30e0ac"/>
<rect x="131.0" y="1094.2" width="29.8" height="15.7" fill="#28cd5e"/>
<rect x="159.8" y="1094.2" width="15.8" height="15.7" fill="#30e0ac"/>
<rect x="174.6" y="1094.2" width="15.8" height="15.7" fill="#22eeea"/>
<rect x="189.4" y="1094.2" width="15.8" height="15.7" fill="#15b6f8"/>
<rect x="204.2" y="1094.2" width="15.8" height="15.7" fill="#22eeea"/>
<rect x="219.0" y="1094.2" width="15.8" height="15.7" fill="#15b6f8"/>
<rect x="233.8" y="1094.2" width="15.8" height="15.7" fill="#22eeea"/>
<rect x="248.6" y="1094.2" width="30.6" height="15.7" fill="#30e0ac"/>
<rect x="278.2" y="1094.2" width="15.8" height="15.7" fill="#28cd5e"/>
<rect x="293.0" y="1094.2" width="15.8" height="15.7" fill="#30e0ac"/>
<rect x="307.8" y="1094.2" width="30.6" height="15.7" fill="#22eeea"/>
<rect x="337.4" y="1094.2" width="30.6" height="15.7" fill="#15b6f8"/>
<rect x="367.0" y="1094.2" width="30.6" height="15.7" fill="#22eeea"/>
<rect x="396.6" y="1094.2" width="15.8" height="15.7" fill="#28cd5e"/>
<rect x="411.4" y="1094.2" width="89.8" height="15.7" fill="#24b808"/>
<rect x="500.2" y="1094.2" width="15.8" height="15.7" fill="#28cd5e"/>
<rect x="515.0" y="1094.2" width="89.0" height="15.7" fill="#30e0ac"/>
<rect x="131.0" y="1109.0" width="29.8" height="15.7" fill="#30e0ac"/>
<rect x="159.8" y="1109.0" width="15.8" height="15.7" fill="#22eeea"/>
<rect x="174.6" y="1109.0" width="15.8" height="15.7" fill="#15b6f8"/>
<rect x="189.4" y="1109.0" width="15.8" height="15.7" fill="#107df8"/>
<rect x="204.2" y="1109.0" width="30.6" height="15.7" fill="#1039f8"/>
<rect x="233.8" y="1109.0" width="30.6" height="15.7" fill="#15b6f8"/>
<rect x="263.4" y="1109.0" width="30.6" height="15.7" fill="#22eeea"/>
<rect x="293.0" y="1109.0" width="15.8" height="15.7" fill="#15b6f8"/>
<rect x="307.8" y="1109.0" width="15.8" height="15.7" fill="#107df8"/>
<rect x="322.6" y="1109.0" width="75.0" height="15.7" fill="#1039f8"/>
<rect x="396.6" y="1109.0" width="15.8" height="15.7" fill="#22eeea"/>
<rect x="411.4" y="1109.0" width="15.8" height="15.7" fill="#30e0ac"/>
<rect x="426.2" y="1109.0" width="15.8" height="15.7" fill="#28cd5e"/>
<rect x="441.0" y="1109.0" width="45.4" height="15.7" fill="#24b808"/>
<rect x="485.4" y="1109.0" width="45.4" height="15.7" fill="#28cd5e"/>
<rect x="529.8" y="1109.0" width="15.8" height="15.7" fill="#30e0ac"/>
<rect x="544.6" y="1109.0" width="15.8" height="15.7" fill="#22eeea"/>
<rect x="559.4" y="1109.0" width="44.6" height="15.7" fill="#30e0ac"/>
<rect x="131.0" y="1123.7" width="29.8" height="15.7" fill="#30e0ac"/>
<rect x="159.8" y="1123.7" width="15.8" height="15.7" fill="#22eeea"/>
<rect x="174.6" y="1123.7" width="15.8" height="15.7" fill="#15b6f8"/>
<rect x="189.4" y="1123.7" width="15.8" height="15.7" fill="#22eeea"/>
<rect x="204.2" y="1123.7" width="30.6" height="15.7" fill="#1039f8"/>
<rect x="233.8" y="1123.7" width="15.8" height="15.7" fill="#107df8"/>
<rect x="248.6" y="1123.7" width="60.2" height="15.7" fill="#15b6f8"/>
<rect x="307.8" y="1123.7" width="15.8" height="15.7" fill="#107df8"/>
<rect x="322.6" y="1123.7" width="75.0" height="15.7" fill="#1039f8"/>
<rect x="396.6" y="1123.7" width="15.8" height="15.7" fill="#15b6f8"/>
<rect x="411.4" y="1123.7" width="15.8" height="15.7" fill="#22eeea"/>
<rect x="426.2" y="1123.7" width="30.6" height="15.7" fill="#28cd5e"/>
<rect x="455.8" y="1123.7" width="60.2" height="15.7" fill="#24b808"/>
<rect x="515.0" y="1123.7" width="15.8" height="15.7" fill="#28cd5e"/>
<rect x="529.8" y="1123.7" width="74.2" height="15.7" fill="#30e0ac"/>
<rect x="131.0" y="1138.4" width="44.6" height="15.7" fill="#30e0ac"/>
<rect x="174.6" y="1138.4" width="15.8" height="15.7" fill="#22eeea"/>
<rect x="189.4" y="1138.4" width="15.8" height="15.7" fill="#30e0ac"/>
<rect x="204.2" y="1138.4" width="15.8" height="15.7" fill="#107df8"/>
<rect x="219.0" y="1138.4" width="15.8" height="15.7" fill="#1039f8"/>
<rect x="233.8" y="1138.4" width="89.8" height="15.7" fill="#15b6f8"/>
<rect x="322.6" y="1138.4" width="15.8" height="15.7" fill="#107df8"/>
<rect x="337.4" y="1138.4" width="60.2" height="15.7" fill="#1039f8"/>
<rect x="396.6" y="1138.4" width="15.8" height="15.7" fill="#15b6f8"/>
<rect x="411.4" y="1138.4" width="15.8" height="15.7" fill="#22eeea"/>
<rect x="426.2" y="1138.4" width="15.8" height="15.7" fill="#30e0ac"/>
<rect x="441.0" y="1138.4" width="15.8" height="15.7" fill="#28cd5e"/>
<rect x="455.8" y="1138.4" width="60.2" height="15.7" fill="#24b808"/>
<rect x="515.0" y="1138.4" width="30.6" height="15.7" fill="#28cd5e"/>
<rect x="544.6" y="1138.4" width="59.4" height="15.7" fill="#30e0ac"/>
<rect x="131.0" y="1153.2" width="29.8" height="15.7" fill="#28cd5e"/>
<rect x="159.8" y="1153.2" width="15.8" height="15.7" fill="#30e0ac"/>
<rect x="174.6" y="1153.2" width="30.6" height="15.7" fill="#28cd5e"/>
<rect x="204.2" y="1153.2" width="15.8" height="15.7" fill="#22eeea"/>
<rect x="219.0" y="1153.2" width="15.8" height="15.7" fill="#1039f8"/>
<rect x="233.8" y="1153.2" width="15.8" height="15.7" fill="#107df8"/>
<rect x="248.6" y="1153.2" width="75.0" height="15.7" fill="#15b6f8"/>
<rect x="322.6" y="1153.2" width="15.8" height="15.7" fill="#107df8"/>
<rect x="337.4" y="1153.2" width="60.2" height="15.7" fill="#1039f8"/>
<rect x="396.6" y="1153.2" width="15.8" height="15.7" fill="#15b6f8"/>
<rect x="411.4" y="1153.2" width="15.8" height="15.7" fill="#22eeea"/>
<rect x="426.2" y="1153.2" width="15.8" height="15.7" fill="#30e0ac"/>
<rect x="441.0" y="1153.2" width="15.8" height="15.7" fill="#28cd5e"/>
<rect x="455.8" y="1153.2" width="15.8" height="15.7" fill="#24b808"/>
<rect x="470.6" y="1153.2" width="15.8" height="15.7" fill="#6dd000"/>
<rect x="485.4" y="1153.2" width="15.8" height="15.7" fill="#c2ea00"/>
<rect x="500.2" y="1153.2" width="15.8" height="15.7" fill="#6dd000"/>
<rect x="515.0" y="1153.2" width="45.4" height="15.7" fill="#24b808"/>
<rect x="559.4" y="1153.2" width="44.6" height="15.7" fill="#28cd5e"/>
<rect x="131.0" y="1167.9" width="44.6" height="15.7" fill="#28cd5e"/>
<rect x="174.6" y="1167.9" width="15.8" height="15.7" fill="#24b808"/>
<rect x="189.4" y="1167.9" width="15.8" height="15.7" fill="#28cd5e"/>
<rect x="204.2" y="1167.9" width="15.8" height="15.7" fill="#30e0ac"/>
<rect x="219.0" y="1167.9" width="30.6" height="15.7" fill="#107df8"/>
<rect x="248.6" y="1167.9" width="15.8" height="15.7" fill="#15b6f8"/>
<rect x="263.4" y="1167.9" width="45.4" height="15.7" fill="#22eeea"/>
<rect x="307.8" y="1167.9" width="15.8" height="15.7" fill="#15b6f8"/>
<rect x="322.6" y="1167.9" width="15.8" height="15.7" fill="#107df8"/>
<rect x="337.4" y="1167.9" width="75.0" height="15.7" fill="#1039f8"/>
<rect x="411.4" y="1167.9" width="15.8" height="15.7" fill="#107df8"/>
<rect x="426.2" y="1167.9" width="15.8" height="15.7" fill="#22eeea"/>
<rect x="441.0" y="1167.9" width="15.8" height="15.7" fill="#30e0ac"/>
<rect x="455.8" y="1167.9" width="15.8" height="15.7" fill="#24b808"/>
<rect x="470.6" y="1167.9" width="15.8" height="15.7" fill="#6dd000"/>
<rect x="485.4" y="1167.9" width="15.8" height="15.7" fill="#efec00"/>
<rect x="500.2" y="1167.9" width="30.6" height="15.7" fill="#6dd000"/>
<rect x="529.8" y="1167.9" width="30.6" height="15.7" fill="#24b808"/>
<rect x="559.4" y="1167.9" width="44.6" height="15.7" fill="#28cd5e"/>
<rect x="131.0" y="1182.6" width="74.2" height="15.7" fill="#24b808"/>
<rect x="204.2" y="1182.6" width="15.8" height="15.7" fill="#28cd5e"/>
<rect x="219.0" y="1182.6" width="15.8" height="15.7" fill="#30e0ac"/>
<rect x="233.8" y="1182.6" width="15.8" height="15.7" fill="#22eeea"/>
<rect x="248.6" y="1182.6" width="60.2" height="15.7" fill="#30e0ac"/>
<rect x="307.8" y="1182.6" width="15.8" height="15.7" fill="#22eeea"/>
<rect x="322.6" y="1182.6" width="15.8" height="15.7" fill="#15b6f8"/>
<rect x="337.4" y="1182.6" width="60.2" height="15.7" fill="#107df8"/>
<rect x="396.6" y="1182.6" width="30.6" height="15.7" fill="#15b6f8"/>
<rect x="426.2" y="1182.6" width="15.8" height="15.7" fill="#30e0ac"/>
<rect x="441.0" y="1182.6" width="15.8" height="15.7" fill="#28cd5e"/>
<rect x="455.8" y="1182.6" width="15.8" height="15.7" fill="#24b808"/>
<rect x="470.6" y="1182.6" width="15.8" height="15.7" fill="#c2ea00"/>
<rect x="485.4" y="1182.6" width="15.8" height="15.7" fill="#efec00"/>
<rect x="500.2" y="1182.6" width="15.8" height="15.7" fill="#c2ea00"/>
<rect x="515.0" y="1182.6" width="30.6" height="15.7" fill="#6dd000"/>
<rect x="544.6" y="1182.6" width="59.4" height="15.7" fill="#24b808"/>
<rect x="131.0" y="1197.4" width="59.4" height="15.7" fill="#6dd000"/>
<rect x="189.4" y="1197.4" width="45.4" height="15.7" fill="#24b808"/>
<rect x="233.8" y="1197.4" width="75.0" height="15.7" fill="#28cd5e"/>
<rect x="307.8" y="1197.4" width="15.8" height="15.7" fill="#30e0ac"/>
<rect x="322.6" y="1197.4" width="89.8" height="15.7" fill="#22eeea"/>
<rect x="411.4" y="1197.4" width="15.8" height="15.7" fill="#30e0ac"/>
<rect x="426.2" y="1197.4" width="15.8" height="15.7" fill="#28cd5e"/>
<rect x="441.0" y="1197.4" width="15.8" height="15.7" fill="#24b808"/>
<rect x="455.8" y="1197.4" width="15.8" height="15.7" fill="#6dd000"/>
<rect x="470.6" y="1197.4" width="15.8" height="15.7" fill="#f3c800"/>
<rect x="485.4" y="1197.4" width="15.8" height="15.7" fill="#efec00"/>
<rect x="500.2" y="1197.4" width="15.8" height="15.7" fill="#f3c800"/>
<rect x="515.0" y="1197.4" width="15.8" height="15.7" fill="#efec00"/>
<rect x="529.8" y="1197.4" width="74.2" height="15.7" fill="#6dd000"/>
<rect x="131.0" y="1212.1" width="74.2" height="15.7" fill="#f3c800"/>
<rect x="204.2" y="1212.1" width="15.8" height="15.7" fill="#efec00"/>
<rect x="219.0" y="1212.1" width="15.8" height="15.7" fill="#6dd000"/>
<rect x="233.8" y="1212.1" width="75.0" height="15.7" fill="#24b808"/>
<rect x="307.8" y="1212.1" width="30.6" height="15.7" fill="#28cd5e"/>
<rect x="337.4" y="1212.1" width="45.4" height="15.7" fill="#30e0ac"/>
<rect x="381.8" y="1212.1" width="30.6" height="15.7" fill="#28cd5e"/>
<rect x="411.4" y="1212.1" width="30.6" height="15.7" fill="#24b808"/>
<rect x="441.0" y="1212.1" width="15.8" height="15.7" fill="#6dd000"/>
<rect x="455.8" y="1212.1" width="15.8" height="15.7" fill="#f3c800"/>
<rect x="470.6" y="1212.1" width="45.4" height="15.7" fill="#efec00"/>
<rect x="515.0" y="1212.1" width="89.0" height="15.7" fill="#c2ea00"/>
<rect x="131.0" y="1226.8" width="103.8" height="15.7" fill="#efec00"/>
<rect x="233.8" y="1226.8" width="15.8" height="15.7" fill="#6dd000"/>
<rect x="248.6" y="1226.8" width="104.6" height="15.7" fill="#24b808"/>
<rect x="352.2" y="1226.8" width="15.8" height="15.7" fill="#28cd5e"/>
<rect x="367.0" y="1226.8" width="75.0" height="15.7" fill="#24b808"/>
<rect x="441.0" y="1226.8" width="15.8" height="15.7" fill="#6dd000"/>
<rect x="455.8" y="1226.8" width="148.2" height="15.7" fill="#c2ea00"/>
<rect x="131.0" y="1241.6" width="133.4" height="29.7" fill="#6dd000"/>
<rect x="263.4" y="1241.6" width="163.8" height="29.7" fill="#24b808"/>
<rect x="426.2" y="1241.6" width="177.8" height="29.7" fill="#6dd000"/>
<g filter="url(#bl2)">
<path d="M278.0,1073.0 C281.0,1071.2 289.0,1065.3 296.0,1062.0 C303.0,1058.7 312.7,1055.2 320.0,1053.0 C327.3,1050.8 333.3,1049.8 340.0,1049.0 C346.7,1048.2 353.3,1047.8 360.0,1048.0 C366.7,1048.2 373.3,1048.5 380.0,1050.0 C386.7,1051.5 394.5,1054.2 400.0,1057.0 C405.5,1059.8 409.5,1063.5 413.0,1067.0 C416.5,1070.5 419.7,1076.2 421.0,1078.0" fill="none" stroke="#efec00" stroke-width="18" stroke-linecap="round" stroke-linejoin="round"/>
<path d="M282.0,1070.0 C285.0,1068.3 293.7,1062.8 300.0,1060.0 C306.3,1057.2 313.3,1054.7 320.0,1053.0 C326.7,1051.3 333.3,1050.7 340.0,1050.0 C346.7,1049.3 353.3,1048.8 360.0,1049.0 C366.7,1049.2 373.3,1049.5 380.0,1051.0 C386.7,1052.5 394.5,1055.3 400.0,1058.0 C405.5,1060.7 409.7,1064.0 413.0,1067.0 C416.3,1070.0 418.8,1074.5 420.0,1076.0" fill="none" stroke="#e48c00" stroke-width="11" stroke-linecap="round" stroke-linejoin="round"/>
<path d="M285.0,1068.0 C287.5,1066.7 294.5,1062.3 300.0,1060.0 C305.5,1057.7 315.0,1055.0 318.0,1054.0" fill="none" stroke="#d45006" stroke-width="8" stroke-linecap="round" stroke-linejoin="round"/>
<path d="M398.0,1057.0 C399.7,1058.0 405.2,1060.8 408.0,1063.0 C410.8,1065.2 413.8,1068.8 415.0,1070.0" fill="none" stroke="#d45006" stroke-width="5" stroke-linecap="round" stroke-linejoin="round"/>
</g>
</g>
</g>
<use href="#grat" transform="translate(0,944.20)"/>
</g>
<ellipse cx="367.0" cy="1145.80" rx="221.6" ry="110.1" fill="none" stroke="#f4f08a" stroke-width="0.8" stroke-opacity="0.7"/>
<path d="M146.5,1163.2 C147.9,1162.1 152.4,1158.9 155.0,1156.7 C157.6,1154.5 160.8,1151.1 162.0,1150.0" fill="none" stroke="#000" stroke-width="2"/>
<path d="M229.0,1081.2 C230.5,1080.1 231.8,1078.6 238.0,1074.7 C244.2,1070.8 256.0,1063.5 265.9,1057.9 C275.8,1052.3 292.2,1043.8 297.5,1041.0" fill="none" stroke="#000" stroke-width="2"/>
<path d="M423.0,1040.5 C425.3,1042.5 432.3,1048.4 436.7,1052.4 C441.1,1056.4 445.6,1061.1 449.5,1064.7 C453.4,1068.3 456.1,1070.1 460.0,1074.0 C463.9,1077.9 468.7,1083.1 473.0,1088.0 C477.3,1092.9 482.0,1098.5 486.0,1103.2 C490.0,1107.9 493.2,1111.9 496.8,1116.2 C500.4,1120.5 504.3,1124.7 507.7,1129.2 C511.1,1133.7 514.5,1139.8 517.4,1143.2 C520.3,1146.6 521.9,1147.4 525.0,1149.8 C528.1,1152.2 532.2,1155.2 535.8,1157.4 C539.4,1159.6 543.1,1161.4 546.7,1162.8 C550.3,1164.2 553.9,1165.4 557.5,1166.0 C561.1,1166.6 564.7,1166.7 568.3,1166.5 C571.9,1166.3 575.8,1165.7 579.2,1165.0 C582.6,1164.3 587.2,1162.7 588.8,1162.2" fill="none" stroke="#000" stroke-width="2"/>
<path d="M210.0,1223.5 C210.8,1223.1 213.5,1223.1 214.7,1221.2 C215.9,1219.3 216.4,1216.2 217.0,1211.9 C217.6,1207.6 217.8,1200.6 218.2,1195.5 C218.6,1190.4 218.5,1186.2 219.3,1181.5 C220.1,1176.8 222.2,1169.6 222.8,1167.2" fill="none" stroke="#000" stroke-width="2"/>
<path d="M270.0,1100.2 C271.7,1098.9 276.7,1094.7 280.0,1092.2 C283.3,1089.7 286.7,1087.5 290.0,1085.2 C293.3,1082.9 296.7,1080.2 300.0,1078.2 C303.3,1076.2 306.7,1074.7 310.0,1073.2 C313.3,1071.7 316.7,1070.3 320.0,1069.2 C323.3,1068.1 326.7,1067.3 330.0,1066.6 C333.3,1065.9 336.7,1065.2 340.0,1064.8 C343.3,1064.4 346.7,1064.1 350.0,1064.2 C353.3,1064.3 356.7,1064.8 360.0,1065.2 C363.3,1065.6 366.7,1066.0 370.0,1066.8 C373.3,1067.6 376.1,1068.3 380.0,1070.2 C383.9,1072.1 389.1,1075.5 393.3,1078.2 C397.5,1080.9 400.0,1082.5 405.0,1086.2 C410.0,1089.9 417.5,1095.0 423.3,1100.5 C429.1,1106.0 435.2,1113.8 439.7,1119.2 C444.2,1124.7 447.1,1128.5 450.2,1133.2 C453.3,1137.9 455.6,1141.8 458.3,1147.2 C461.0,1152.7 464.2,1159.7 466.5,1165.9 C468.8,1172.1 470.6,1178.3 472.3,1184.5 C474.1,1190.7 475.2,1197.8 477.0,1203.2 C478.8,1208.7 480.7,1213.7 482.8,1217.2 C484.9,1220.7 486.1,1222.8 489.8,1224.2 C493.5,1225.6 499.6,1225.2 505.0,1225.4 C510.4,1225.6 519.6,1225.4 522.5,1225.4" fill="none" stroke="#000" stroke-width="2"/>
<path d="M162.0,1150.0 C164.2,1147.9 170.1,1142.0 175.0,1137.2 C179.9,1132.4 185.5,1127.1 191.3,1120.9 C197.1,1114.7 203.7,1106.5 210.0,1099.9 C216.3,1093.3 225.8,1084.3 229.0,1081.2" fill="none" stroke="#000" stroke-width="1.3" stroke-dasharray="2.6,2.4"/>
<path d="M222.8,1167.2 C223.4,1164.9 223.8,1158.9 226.3,1153.5 C228.8,1148.1 234.1,1140.5 238.0,1134.9 C241.9,1129.4 246.3,1124.4 250.0,1120.2 C253.7,1116.0 256.7,1113.0 260.0,1109.7 C263.3,1106.4 268.3,1101.8 270.0,1100.2" fill="none" stroke="#000" stroke-width="1.3" stroke-dasharray="2.6,2.4"/>
<text x="267.7" y="1160.00" class="mk" fill="#0a1420" textLength="42.8" lengthAdjust="spacingAndGlyphs">Downwind</text>
<text x="347.7" y="1157.80" class="mk" fill="#eef0c4" textLength="38.3" lengthAdjust="spacingAndGlyphs">Offset Tail</text>
<use href="#labs" transform="translate(0,944.20)"/>
<rect x="63.5" y="1040.50" width="12.5" height="222.30" fill="url(#cm)" stroke="#d8b050" stroke-width="1"/>
<path d="M64,1235.01 h3 M72.5,1235.01 h3" stroke="#f0c040" stroke-width="1"/>
<path d="M64,1207.23 h3 M72.5,1207.23 h3" stroke="#f0c040" stroke-width="1"/>
<path d="M64,1179.44 h3 M72.5,1179.44 h3" stroke="#f0c040" stroke-width="1"/>
<path d="M64,1151.65 h3 M72.5,1151.65 h3" stroke="#f0c040" stroke-width="1"/>
<path d="M64,1123.86 h3 M72.5,1123.86 h3" stroke="#f0c040" stroke-width="1"/>
<path d="M64,1096.08 h3 M72.5,1096.08 h3" stroke="#f0c040" stroke-width="1"/>
<path d="M64,1068.29 h3 M72.5,1068.29 h3" stroke="#f0c040" stroke-width="1"/>
<text x="81.3" y="1266.70" class="cl">0</text>
<text x="81.3" y="1213.13" class="cl">4.5</text>
<text x="81.3" y="1157.55" class="cl">9</text>
<text x="81.3" y="1101.98" class="cl">13.5</text>
<text x="81.3" y="1047.90" class="cl">18</text>
<text x="144.2" y="1051.20" class="en" textLength="86.6" lengthAdjust="spacingAndGlyphs">~4.29 keV</text>
</svg>
</body></html>
